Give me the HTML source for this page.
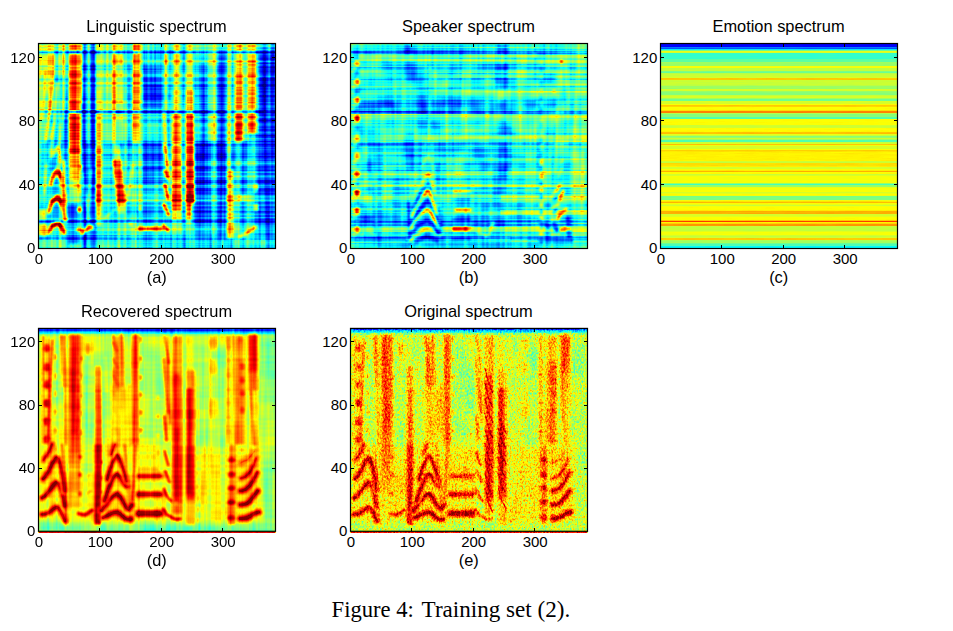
<!DOCTYPE html>
<html lang="en"><head><meta charset="utf-8"><title>Figure 4: Training set (2)</title>
<style>html,body{margin:0;padding:0;background:#fff}svg{display:block}</style></head><body>
<svg width="953" height="631" viewBox="0 0 953 631">
<defs>
<filter id="bl0_4" filterUnits="userSpaceOnUse" x="-20" y="-20" width="277" height="245" color-interpolation-filters="sRGB"><feGaussianBlur stdDeviation="0.4"/></filter>
<filter id="bl0_5" filterUnits="userSpaceOnUse" x="-20" y="-20" width="277" height="245" color-interpolation-filters="sRGB"><feGaussianBlur stdDeviation="0.5"/></filter>
<filter id="bl0_6" filterUnits="userSpaceOnUse" x="-20" y="-20" width="277" height="245" color-interpolation-filters="sRGB"><feGaussianBlur stdDeviation="0.6"/></filter>
<filter id="bl0_7" filterUnits="userSpaceOnUse" x="-20" y="-20" width="277" height="245" color-interpolation-filters="sRGB"><feGaussianBlur stdDeviation="0.7"/></filter>
<filter id="bl0_8" filterUnits="userSpaceOnUse" x="-20" y="-20" width="277" height="245" color-interpolation-filters="sRGB"><feGaussianBlur stdDeviation="0.8"/></filter>
<filter id="bl0_9" filterUnits="userSpaceOnUse" x="-20" y="-20" width="277" height="245" color-interpolation-filters="sRGB"><feGaussianBlur stdDeviation="0.9"/></filter>
<filter id="bl1" filterUnits="userSpaceOnUse" x="-20" y="-20" width="277" height="245" color-interpolation-filters="sRGB"><feGaussianBlur stdDeviation="1"/></filter>
<filter id="bl1_1" filterUnits="userSpaceOnUse" x="-20" y="-20" width="277" height="245" color-interpolation-filters="sRGB"><feGaussianBlur stdDeviation="1.1"/></filter>
<filter id="bl1_2" filterUnits="userSpaceOnUse" x="-20" y="-20" width="277" height="245" color-interpolation-filters="sRGB"><feGaussianBlur stdDeviation="1.2"/></filter>
<filter id="bl1_3" filterUnits="userSpaceOnUse" x="-20" y="-20" width="277" height="245" color-interpolation-filters="sRGB"><feGaussianBlur stdDeviation="1.3"/></filter>
<filter id="bl1_4" filterUnits="userSpaceOnUse" x="-20" y="-20" width="277" height="245" color-interpolation-filters="sRGB"><feGaussianBlur stdDeviation="1.4"/></filter>
<filter id="bl1_5" filterUnits="userSpaceOnUse" x="-20" y="-20" width="277" height="245" color-interpolation-filters="sRGB"><feGaussianBlur stdDeviation="1.5"/></filter>
<filter id="bl1_6" filterUnits="userSpaceOnUse" x="-20" y="-20" width="277" height="245" color-interpolation-filters="sRGB"><feGaussianBlur stdDeviation="1.6"/></filter>
<filter id="bl2" filterUnits="userSpaceOnUse" x="-20" y="-20" width="277" height="245" color-interpolation-filters="sRGB"><feGaussianBlur stdDeviation="2"/></filter>
<filter id="bl2_5" filterUnits="userSpaceOnUse" x="-20" y="-20" width="277" height="245" color-interpolation-filters="sRGB"><feGaussianBlur stdDeviation="2.5"/></filter>
<filter id="bl3" filterUnits="userSpaceOnUse" x="-20" y="-20" width="277" height="245" color-interpolation-filters="sRGB"><feGaussianBlur stdDeviation="3"/></filter>
<filter id="bl4" filterUnits="userSpaceOnUse" x="-20" y="-20" width="277" height="245" color-interpolation-filters="sRGB"><feGaussianBlur stdDeviation="4"/></filter>
<filter id="bl5" filterUnits="userSpaceOnUse" x="-20" y="-20" width="277" height="245" color-interpolation-filters="sRGB"><feGaussianBlur stdDeviation="5"/></filter>
<filter id="jet_a" filterUnits="userSpaceOnUse" x="0" y="0" width="237" height="205" color-interpolation-filters="sRGB">
<feTurbulence type="fractalNoise" baseFrequency="0.24 0.004" numOctaves="2" seed="5" result="t0"/>
<feColorMatrix in="t0" type="matrix" values="1 0 0 0 0 1 0 0 0 0 1 0 0 0 0 0 0 0 0 1" result="n0"/>
<feComposite in="SourceGraphic" in2="n0" operator="arithmetic" k1="0" k2="1" k3="0.42" k4="-0.21" result="c0"/>
<feTurbulence type="fractalNoise" baseFrequency="0.003 0.36" numOctaves="2" seed="9" result="t1"/>
<feColorMatrix in="t1" type="matrix" values="1 0 0 0 0 1 0 0 0 0 1 0 0 0 0 0 0 0 0 1" result="n1"/>
<feComposite in="c0" in2="n1" operator="arithmetic" k1="0" k2="1" k3="0.42" k4="-0.21" result="c1"/>
<feTurbulence type="fractalNoise" baseFrequency="0.06 0.05" numOctaves="1" seed="2" result="t2"/>
<feColorMatrix in="t2" type="matrix" values="1 0 0 0 0 1 0 0 0 0 1 0 0 0 0 0 0 0 0 1" result="n2"/>
<feComposite in="c1" in2="n2" operator="arithmetic" k1="0" k2="1" k3="0.12" k4="-0.06" result="c2"/>
<feComponentTransfer in="c2"><feFuncR type="table" tableValues="0 0 0 0 .5 1 1 1 .5"/><feFuncG type="table" tableValues="0 0 .5 1 1 1 .5 0 0"/><feFuncB type="table" tableValues=".5 1 1 1 .5 0 0 0 0"/><feFuncA type="linear" slope="0" intercept="1"/></feComponentTransfer>
</filter>
<filter id="jet_b" filterUnits="userSpaceOnUse" x="0" y="0" width="237" height="205" color-interpolation-filters="sRGB">
<feTurbulence type="fractalNoise" baseFrequency="0.22 0.01" numOctaves="2" seed="11" result="t0"/>
<feColorMatrix in="t0" type="matrix" values="1 0 0 0 0 1 0 0 0 0 1 0 0 0 0 0 0 0 0 1" result="n0"/>
<feComposite in="SourceGraphic" in2="n0" operator="arithmetic" k1="0" k2="1" k3="0.25" k4="-0.12" result="c0"/>
<feTurbulence type="fractalNoise" baseFrequency="0.004 0.4" numOctaves="2" seed="4" result="t1"/>
<feColorMatrix in="t1" type="matrix" values="1 0 0 0 0 1 0 0 0 0 1 0 0 0 0 0 0 0 0 1" result="n1"/>
<feComposite in="c0" in2="n1" operator="arithmetic" k1="0" k2="1" k3="0.4" k4="-0.2" result="c1"/>
<feTurbulence type="fractalNoise" baseFrequency="0.05 0.06" numOctaves="2" seed="7" result="t2"/>
<feColorMatrix in="t2" type="matrix" values="1 0 0 0 0 1 0 0 0 0 1 0 0 0 0 0 0 0 0 1" result="n2"/>
<feComposite in="c1" in2="n2" operator="arithmetic" k1="0" k2="1" k3="0.22" k4="-0.11" result="c2"/>
<feComponentTransfer in="c2"><feFuncR type="table" tableValues="0 0 0 0 .5 1 1 1 .5"/><feFuncG type="table" tableValues="0 0 .5 1 1 1 .5 0 0"/><feFuncB type="table" tableValues=".5 1 1 1 .5 0 0 0 0"/><feFuncA type="linear" slope="0" intercept="1"/></feComponentTransfer>
</filter>
<filter id="jet_c" filterUnits="userSpaceOnUse" x="0" y="0" width="237" height="205" color-interpolation-filters="sRGB">
<feTurbulence type="fractalNoise" baseFrequency="0.05 0.9" numOctaves="1" seed="3" result="t0"/>
<feColorMatrix in="t0" type="matrix" values="1 0 0 0 0 1 0 0 0 0 1 0 0 0 0 0 0 0 0 1" result="n0"/>
<feComposite in="SourceGraphic" in2="n0" operator="arithmetic" k1="0" k2="1" k3="0.03" k4="-0.01" result="c0"/>
<feComponentTransfer in="c0"><feFuncR type="table" tableValues="0 0 0 0 .5 1 1 1 .5"/><feFuncG type="table" tableValues="0 0 .5 1 1 1 .5 0 0"/><feFuncB type="table" tableValues=".5 1 1 1 .5 0 0 0 0"/><feFuncA type="linear" slope="0" intercept="1"/></feComponentTransfer>
</filter>
<filter id="jet_d" filterUnits="userSpaceOnUse" x="0" y="0" width="237" height="204.6" color-interpolation-filters="sRGB">
<feTurbulence type="fractalNoise" baseFrequency="0.28 0.008" numOctaves="2" seed="21" result="t0"/>
<feColorMatrix in="t0" type="matrix" values="1 0 0 0 0 1 0 0 0 0 1 0 0 0 0 0 0 0 0 1" result="n0"/>
<feComposite in="SourceGraphic" in2="n0" operator="arithmetic" k1="0" k2="1" k3="0.2" k4="-0.1" result="c0"/>
<feTurbulence type="fractalNoise" baseFrequency="0.05 0.04" numOctaves="2" seed="17" result="t1"/>
<feColorMatrix in="t1" type="matrix" values="1 0 0 0 0 1 0 0 0 0 1 0 0 0 0 0 0 0 0 1" result="n1"/>
<feComposite in="c0" in2="n1" operator="arithmetic" k1="0" k2="1" k3="0.15" k4="-0.07" result="c1"/>
<feTurbulence type="fractalNoise" baseFrequency="0.01 0.3" numOctaves="1" seed="3" result="t2"/>
<feColorMatrix in="t2" type="matrix" values="1 0 0 0 0 1 0 0 0 0 1 0 0 0 0 0 0 0 0 1" result="n2"/>
<feComposite in="c1" in2="n2" operator="arithmetic" k1="0" k2="1" k3="0.1" k4="-0.05" result="c2"/>
<feComponentTransfer in="c2"><feFuncR type="table" tableValues="0 0 0 0 .5 1 1 1 .5"/><feFuncG type="table" tableValues="0 0 .5 1 1 1 .5 0 0"/><feFuncB type="table" tableValues=".5 1 1 1 .5 0 0 0 0"/><feFuncA type="linear" slope="0" intercept="1"/></feComponentTransfer>
</filter>
<filter id="jet_e" filterUnits="userSpaceOnUse" x="0" y="0" width="237" height="204.6" color-interpolation-filters="sRGB">
<feTurbulence type="fractalNoise" baseFrequency="0.6 0.42" numOctaves="2" seed="8" result="t0"/>
<feColorMatrix in="t0" type="matrix" values="1 0 0 0 0 1 0 0 0 0 1 0 0 0 0 0 0 0 0 1" result="n0"/>
<feComposite in="SourceGraphic" in2="n0" operator="arithmetic" k1="0" k2="1" k3="0.4" k4="-0.2" result="c0"/>
<feTurbulence type="fractalNoise" baseFrequency="0.07 0.05" numOctaves="2" seed="31" result="t1"/>
<feColorMatrix in="t1" type="matrix" values="1 0 0 0 0 1 0 0 0 0 1 0 0 0 0 0 0 0 0 1" result="n1"/>
<feComposite in="c0" in2="n1" operator="arithmetic" k1="0" k2="1" k3="0.1" k4="-0.05" result="c1"/>
<feTurbulence type="fractalNoise" baseFrequency="0.3 0.02" numOctaves="1" seed="5" result="t2"/>
<feColorMatrix in="t2" type="matrix" values="1 0 0 0 0 1 0 0 0 0 1 0 0 0 0 0 0 0 0 1" result="n2"/>
<feComposite in="c1" in2="n2" operator="arithmetic" k1="0" k2="1" k3="0.12" k4="-0.06" result="c2"/>
<feComponentTransfer in="c2"><feFuncR type="table" tableValues="0 0 0 0 .5 1 1 1 .5"/><feFuncG type="table" tableValues="0 0 .5 1 1 1 .5 0 0"/><feFuncB type="table" tableValues=".5 1 1 1 .5 0 0 0 0"/><feFuncA type="linear" slope="0" intercept="1"/></feComponentTransfer>
</filter>
</defs>
<rect width="953" height="631" fill="#fff"/>
<g transform="translate(38.5,43.5)">
<g filter="url(#jet_a)">
<rect x="0" y="0" width="237" height="205" fill="#5c5c5c"/>
<g filter="url(#bl3)">
<rect x="0" y="0" width="30" height="205" fill="#737373"/>
<rect x="0" y="72" width="30" height="124" fill="#4c4c4c"/>
<rect x="42" y="0" width="15" height="205" fill="#454545"/>
<rect x="62" y="0" width="12" height="100" fill="#737373"/>
<rect x="62" y="100" width="12" height="105" fill="#4c4c4c"/>
<rect x="85" y="0" width="10" height="205" fill="#6b6b6b"/>
<rect x="101" y="0" width="23" height="25" fill="#666666"/>
<rect x="103" y="25" width="19" height="41" fill="#3b3b3b"/>
<rect x="101" y="70" width="23" height="28" fill="#666666"/>
<rect x="103" y="100" width="21" height="35" fill="#3b3b3b"/>
<rect x="101" y="135" width="23" height="70" fill="#545454"/>
<rect x="156" y="0" width="14" height="60" fill="#6b6b6b"/>
</g>
<g filter="url(#bl2)">
<rect x="156" y="0" width="6.5" height="66" fill="#7a7a7a"/>
</g>
<g filter="url(#bl3)">
<rect x="162" y="20" width="8" height="185" fill="#383838"/>
<rect x="156" y="70" width="7" height="28" fill="#7a7a7a"/>
<rect x="156" y="100" width="33" height="95" fill="#3b3b3b"/>
</g>
<g filter="url(#bl2)">
<rect x="169" y="8" width="12" height="16" fill="#999999"/>
<rect x="169" y="24" width="12" height="42" fill="#7a7a7a"/>
<rect x="169" y="70" width="12" height="28" fill="#8f8f8f"/>
<rect x="169" y="0" width="12" height="7" fill="#808080"/>
<rect x="171" y="100" width="9" height="95" fill="#5c5c5c"/>
</g>
<g filter="url(#bl3)">
<rect x="180" y="8" width="8" height="187" fill="#2e2e2e"/>
<rect x="191" y="0" width="5" height="100" fill="#7a7a7a"/>
<rect x="192" y="100" width="20" height="95" fill="#545454"/>
<rect x="219" y="0" width="18" height="10" fill="#525252"/>
<rect x="219" y="10" width="18" height="90" fill="#2b2b2b"/>
<rect x="219" y="100" width="18" height="95" fill="#383838"/>
<rect x="0" y="196" width="237" height="9" fill="#6b6b6b" opacity="0.7"/>
</g>
<g filter="url(#bl1_3)">
<rect x="1" y="0" width="6.5" height="30" fill="#8f8f8f"/>
<rect x="1" y="30" width="6.5" height="36" fill="#707070"/>
<rect x="1" y="70" width="6.5" height="30" fill="#666666"/>
<rect x="1" y="182" width="6.5" height="10" fill="#808080"/>
<rect x="7.5" y="0" width="7.5" height="30" fill="#a8a8a8"/>
<rect x="7.5" y="30" width="7.5" height="20" fill="#8c8c8c"/>
<rect x="7.5" y="50" width="7.5" height="16" fill="#7a7a7a"/>
<rect x="15" y="0" width="7.5" height="30" fill="#7a7a7a"/>
<rect x="15" y="30" width="7.5" height="36" fill="#5c5c5c"/>
<rect x="22.5" y="0" width="5.5" height="30" fill="#a6a6a6"/>
<rect x="22.5" y="30" width="5.5" height="36" fill="#808080"/>
<rect x="28" y="0" width="3" height="205" fill="#4c4c4c"/>
<rect x="31" y="0" width="10.5" height="7" fill="#cccccc"/>
<rect x="31" y="10" width="10.5" height="57" fill="#d6d6d6"/>
<rect x="31" y="70" width="10.5" height="40" fill="#d4d4d4"/>
<rect x="31" y="110" width="10.5" height="15" fill="#b2b2b2"/>
<rect x="31" y="125" width="10.5" height="13" fill="#9e9e9e"/>
<rect x="31" y="138" width="10.5" height="12" fill="#808080"/>
<rect x="31" y="150" width="10.5" height="10" fill="#666666"/>
<rect x="30" y="160" width="11" height="40" fill="#333333"/>
<rect x="42" y="0" width="2" height="60" fill="#8c8c8c"/>
<rect x="44" y="0" width="3.5" height="205" fill="#383838"/>
<rect x="47.5" y="0" width="3.5" height="100" fill="#737373"/>
<rect x="51.5" y="0" width="5.5" height="205" fill="#333333"/>
<rect x="57" y="0" width="5.7" height="8" fill="#999999"/>
<rect x="57" y="10" width="5.7" height="37" fill="#999999"/>
<rect x="57" y="47" width="5.7" height="11" fill="#adadad"/>
<rect x="57" y="58" width="5.7" height="9" fill="#9e9e9e"/>
<rect x="57" y="70" width="5.7" height="30" fill="#b2b2b2"/>
<rect x="57" y="100" width="5.7" height="40" fill="#c7c7c7"/>
<rect x="57" y="140" width="5.7" height="20" fill="#dbdbdb"/>
<rect x="57" y="160" width="5.7" height="12" fill="#b2b2b2"/>
<rect x="57" y="172" width="5.7" height="10" fill="#8c8c8c"/>
<rect x="62.7" y="0" width="4.8" height="66" fill="#737373"/>
<rect x="62.7" y="70" width="4.8" height="30" fill="#5c5c5c"/>
<rect x="67.5" y="0" width="6.5" height="66" fill="#8c8c8c"/>
<rect x="67.5" y="70" width="6.5" height="30" fill="#6b6b6b"/>
<rect x="74" y="0" width="11" height="8" fill="#a3a3a3"/>
<rect x="74" y="10" width="11" height="12" fill="#b8b8b8"/>
<rect x="74" y="22" width="11" height="28" fill="#a6a6a6"/>
<rect x="74" y="50" width="11" height="10" fill="#bdbdbd"/>
<rect x="74" y="60" width="11" height="7" fill="#a3a3a3"/>
<rect x="74" y="70" width="11" height="9" fill="#adadad"/>
<rect x="74" y="79" width="11" height="21" fill="#858585"/>
<rect x="94" y="0" width="6" height="8" fill="#c7c7c7"/>
<rect x="94" y="10" width="6" height="50" fill="#cccccc"/>
<rect x="94" y="60" width="6" height="7" fill="#b8b8b8"/>
<rect x="94" y="70" width="6" height="15" fill="#b8b8b8"/>
<rect x="94" y="85" width="6" height="15" fill="#9e9e9e"/>
<rect x="100" y="0" width="4" height="60" fill="#949494"/>
<rect x="100.5" y="60" width="2" height="70" fill="#949494"/>
<rect x="100.5" y="130" width="2" height="40" fill="#808080"/>
<rect x="125.5" y="0" width="4.5" height="8" fill="#999999"/>
<rect x="125.5" y="10" width="4.5" height="12" fill="#bdbdbd"/>
<rect x="125.5" y="22" width="4.5" height="44" fill="#999999"/>
<rect x="130.5" y="0" width="2.5" height="205" fill="#4c4c4c"/>
<rect x="133" y="0" width="10.2" height="8" fill="#999999"/>
<rect x="133" y="10" width="10.2" height="12" fill="#adadad"/>
<rect x="133" y="22" width="10.2" height="25" fill="#999999"/>
<rect x="133" y="47" width="10.2" height="11" fill="#b2b2b2"/>
<rect x="133" y="58" width="10.2" height="9" fill="#9e9e9e"/>
<rect x="133" y="70" width="10.2" height="22" fill="#c7c7c7"/>
<rect x="133" y="92" width="10.2" height="43" fill="#d9d9d9"/>
<rect x="133" y="135" width="10.2" height="33" fill="#d1d1d1"/>
<rect x="133" y="168" width="10.2" height="8" fill="#9e9e9e"/>
<rect x="133" y="176" width="10.2" height="14" fill="#737373"/>
<rect x="143.5" y="0" width="3.5" height="205" fill="#454545"/>
<rect x="147.3" y="0" width="8.7" height="8" fill="#919191"/>
<rect x="147.3" y="10" width="8.7" height="12" fill="#9e9e9e"/>
<rect x="147.3" y="22" width="8.7" height="25" fill="#949494"/>
<rect x="147.3" y="47" width="8.7" height="11" fill="#b2b2b2"/>
<rect x="147.3" y="58" width="8.7" height="9" fill="#999999"/>
<rect x="147.3" y="70" width="8.7" height="22" fill="#bdbdbd"/>
<rect x="147.3" y="92" width="8.7" height="47" fill="#cccccc"/>
<rect x="147.3" y="139" width="8.7" height="21" fill="#e0e0e0"/>
<rect x="147.5" y="160" width="5.5" height="12" fill="#cccccc"/>
<rect x="147.5" y="172" width="5.5" height="8" fill="#999999"/>
<rect x="188" y="0" width="4" height="100" fill="#a3a3a3"/>
<rect x="188" y="100" width="4" height="40" fill="#999999"/>
<rect x="188.6" y="126" width="6.4" height="69" fill="#b2b2b2"/>
<rect x="196" y="0" width="9.6" height="8" fill="#a6a6a6"/>
<rect x="196" y="10" width="9.6" height="23" fill="#a8a8a8"/>
<rect x="196" y="33" width="9.6" height="25" fill="#c2c2c2"/>
<rect x="196" y="58" width="9.6" height="9" fill="#b2b2b2"/>
<rect x="196" y="69" width="9.6" height="29" fill="#cccccc"/>
<rect x="205.6" y="0" width="4.4" height="98" fill="#808080"/>
<rect x="210" y="0" width="8.8" height="8" fill="#adadad"/>
<rect x="210" y="10" width="8.8" height="50" fill="#c2c2c2"/>
<rect x="210" y="60" width="8.8" height="7" fill="#b2b2b2"/>
<rect x="210" y="69" width="8.8" height="20" fill="#cccccc"/>
<rect x="215" y="89" width="2.5" height="61" fill="#8c8c8c"/>
</g>
<g filter="url(#bl0_9)">
<path d="M9.5 189 13 183.5 18.8 180 23 183.5 25.5 189" stroke="#d1d1d1" stroke-width="4" fill="none" stroke-linecap="round" stroke-linejoin="round"/>
<path d="M14 182 18.8 179.6 22.5 182" stroke="#f7f7f7" stroke-width="3.6" fill="none" stroke-linecap="round" stroke-linejoin="round"/>
<path d="M10 168 13.5 159 18.8 154 22.5 159 25.5 168 27 177" stroke="#d1d1d1" stroke-width="4.2" fill="none" stroke-linecap="round" stroke-linejoin="round"/>
<path d="M14 158 18.8 153.6 22.5 158" stroke="#fafafa" stroke-width="4.2" fill="none" stroke-linecap="round" stroke-linejoin="round"/>
<path d="M12.5 140 15.5 131 18.8 126.5 21.5 131 24 140 26.5 160" stroke="#d1d1d1" stroke-width="4" fill="none" stroke-linecap="round" stroke-linejoin="round"/>
<path d="M15.5 131.5 18.8 127 21.5 131.5" stroke="#f7f7f7" stroke-width="4.6" fill="none" stroke-linecap="round" stroke-linejoin="round"/>
<path d="M25.5 118 26.5 150 27 176" stroke="#cccccc" stroke-width="2.2" fill="none" stroke-linecap="round" stroke-linejoin="round"/>
</g>
<g filter="url(#bl1_5)">
<rect x="0.5" y="166" width="7.5" height="9" fill="#949494"/>
<rect x="0.5" y="181" width="8.5" height="11" fill="#999999"/>
</g>
<g filter="url(#bl0_9)">
<path d="M15 112 17 106 19 103 21 108 23 120" stroke="#b2b2b2" stroke-width="2" fill="none" stroke-linecap="round" stroke-linejoin="round"/>
<path d="M12 95 15 82 17 78" stroke="#b2b2b2" stroke-width="1.6" fill="none" stroke-linecap="round" stroke-linejoin="round"/>
<path d="M7.5 97 10 75 13 45 15 22" stroke="#d6d6d6" stroke-width="1.7" fill="none" stroke-linecap="round" stroke-linejoin="round"/>
<path d="M12.5 114 15 85 17.5 55 18.7 40" stroke="#cccccc" stroke-width="1.6" fill="none" stroke-linecap="round" stroke-linejoin="round"/>
<path d="M12 70 14 40 14.5 10" stroke="#e0e0e0" stroke-width="1.6" fill="none" stroke-linecap="round" stroke-linejoin="round"/>
<path d="M3.5 75 6 45 7.5 25" stroke="#bdbdbd" stroke-width="1.5" fill="none" stroke-linecap="round" stroke-linejoin="round"/>
<path d="M22 100 25 60 27 31" stroke="#9e9e9e" stroke-width="1.4" fill="none" stroke-linecap="round" stroke-linejoin="round"/>
<path d="M19 128 21.5 95 23 75" stroke="#999999" stroke-width="1.3" fill="none" stroke-linecap="round" stroke-linejoin="round"/>
<path d="M6 150 8 120" stroke="#a6a6a6" stroke-width="1.5" fill="none" stroke-linecap="round" stroke-linejoin="round"/>
<path d="M25 139 27 156" stroke="#b2b2b2" stroke-width="1.6" fill="none" stroke-linecap="round" stroke-linejoin="round"/>
<path d="M39 140 42 149" stroke="#b2b2b2" stroke-width="1.6" fill="none" stroke-linecap="round" stroke-linejoin="round"/>
</g>
<g filter="url(#bl0_8)">
<ellipse cx="41" cy="166" rx="2" ry="3" fill="#e6e6e6"/>
</g>
<g filter="url(#bl1)">
<ellipse cx="41" cy="124" rx="2.5" ry="3" fill="#b8b8b8"/>
</g>
<g filter="url(#bl0_9)">
<path d="M44 189 47 186.5 51 183.5 53.5 184" stroke="#d1d1d1" stroke-width="3.6" fill="none" stroke-linecap="round" stroke-linejoin="round"/>
<path d="M39.5 186 43 186.5" stroke="#b8b8b8" stroke-width="3" fill="none" stroke-linecap="round" stroke-linejoin="round"/>
<path d="M44 130 48 160 50 176" stroke="#8c8c8c" stroke-width="1.4" fill="none" stroke-linecap="round" stroke-linejoin="round"/>
<path d="M53 125 50 160 49 176" stroke="#8c8c8c" stroke-width="1.4" fill="none" stroke-linecap="round" stroke-linejoin="round"/>
</g>
<g filter="url(#bl1_2)">
<polygon points="76,100 81,100 87,170 78.5,170" fill="#9e9e9e"/>
<polygon points="74.5,116 82.5,116 87,160 78.5,160" fill="#dedede"/>
</g>
<g filter="url(#bl0_9)">
<path d="M66 175 74 168 82.5 164" stroke="#949494" stroke-width="1.6" fill="none" stroke-linecap="round" stroke-linejoin="round"/>
<path d="M95 121 89 151" stroke="#a8a8a8" stroke-width="1.6" fill="none" stroke-linecap="round" stroke-linejoin="round"/>
<path d="M80 108 80.5 122" stroke="#b8b8b8" stroke-width="1.8" fill="none" stroke-linecap="round" stroke-linejoin="round"/>
<path d="M92.5 140 88.5 157" stroke="#b8b8b8" stroke-width="1.7" fill="none" stroke-linecap="round" stroke-linejoin="round"/>
<path d="M93 122 90 140" stroke="#999999" stroke-width="1.4" fill="none" stroke-linecap="round" stroke-linejoin="round"/>
</g>
<g filter="url(#bl0_8)">
<ellipse cx="101.5" cy="165" rx="1.3" ry="2" fill="#b8b8b8"/>
</g>
<g filter="url(#bl0_9)">
<path d="M90.5 180 92.5 181" stroke="#b2b2b2" stroke-width="2" fill="none" stroke-linecap="round" stroke-linejoin="round"/>
<path d="M100.5 185 123 185" stroke="#c7c7c7" stroke-width="3.8" fill="none" stroke-linecap="round" stroke-linejoin="round"/>
<path d="M125.5 69 128 110 131 140" stroke="#d1d1d1" stroke-width="2" fill="none" stroke-linecap="round" stroke-linejoin="round"/>
<path d="M126.5 127 129 134" stroke="#f7f7f7" stroke-width="2.8" fill="none" stroke-linecap="round" stroke-linejoin="round"/>
<path d="M126.5 141 129.5 155" stroke="#f7f7f7" stroke-width="3" fill="none" stroke-linecap="round" stroke-linejoin="round"/>
<path d="M125.5 161 130 171" stroke="#f7f7f7" stroke-width="3.2" fill="none" stroke-linecap="round" stroke-linejoin="round"/>
<path d="M125 182 129.5 187" stroke="#e0e0e0" stroke-width="3" fill="none" stroke-linecap="round" stroke-linejoin="round"/>
<path d="M126 100 129 125" stroke="#ededed" stroke-width="2.6" fill="none" stroke-linecap="round" stroke-linejoin="round"/>
<path d="M119 185 122 187" stroke="#a8a8a8" stroke-width="2.4" fill="none" stroke-linecap="round" stroke-linejoin="round"/>
<path d="M201 193 206 191 212 187 217 183.5" stroke="#b2b2b2" stroke-width="3" fill="none" stroke-linecap="round" stroke-linejoin="round"/>
<ellipse cx="217.5" cy="144" rx="2" ry="3.4" fill="#adadad"/>
<ellipse cx="217.5" cy="164" rx="2" ry="3.4" fill="#b2b2b2"/>
<path d="M190.5 140 190.5 145" stroke="#b8b8b8" stroke-width="3" fill="none" stroke-linecap="round" stroke-linejoin="round"/>
<path d="M190.5 152 190.5 157" stroke="#b8b8b8" stroke-width="3" fill="none" stroke-linecap="round" stroke-linejoin="round"/>
</g>
<g filter="url(#bl1_2)">
<rect x="200" y="151" width="8" height="6" fill="#808080"/>
</g>
<g filter="url(#bl0_5)" style="mix-blend-mode:difference">
<rect x="0" y="7.5" width="237" height="3" fill="#333333"/>
<rect x="0" y="22" width="237" height="5" fill="#121212"/>
<rect x="0" y="34.5" width="237" height="3" fill="#1a1a1a"/>
<rect x="0" y="52.5" width="237" height="2.5" fill="#0f0f0f"/>
<rect x="0" y="67" width="237" height="3.3" fill="#383838"/>
<rect x="0" y="100" width="237" height="1.7" fill="#1f1f1f"/>
</g>
<g filter="url(#bl0_5)" style="mix-blend-mode:plus-lighter">
<rect x="0" y="140.5" width="237" height="1.9" fill="#1a1a1a"/>
<rect x="0" y="151.5" width="237" height="6.5" fill="#171717"/>
</g>
<g filter="url(#bl0_5)" style="mix-blend-mode:difference">
<rect x="0" y="177.2" width="237" height="1.7" fill="#212121"/>
</g>
<g filter="url(#bl0_5)" style="mix-blend-mode:plus-lighter">
<rect x="0" y="180" width="237" height="12" fill="#121212"/>
</g>
<g filter="url(#bl0_5)" style="mix-blend-mode:difference">
<rect x="0" y="194" width="237" height="2.5" fill="#1a1a1a"/>
</g>
<g filter="url(#bl0_5)" style="mix-blend-mode:plus-lighter">
<rect x="0" y="197" width="237" height="8" fill="#0d0d0d"/>
</g>
</g>
<rect x="0" y="0" width="237" height="205" fill="none" stroke="#000" stroke-width="1.2"/>
<path d="M61 205 v-3.5 M61 0 v3.5 M123 205 v-3.5 M123 0 v3.5 M184 205 v-3.5 M184 0 v3.5 M0 141 h3.5 M237 141 h-3.5 M0 77 h3.5 M237 77 h-3.5 M0 14 h3.5 M237 14 h-3.5" stroke="#000" stroke-width="1" fill="none" shape-rendering="crispEdges"/>
<g font-family="'Liberation Sans', Arial, sans-serif" font-size="15" fill="#000">
<text x="0.3" y="220.2" text-anchor="middle">0</text>
<text x="61.8" y="220.2" text-anchor="middle">100</text>
<text x="123.2" y="220.2" text-anchor="middle">200</text>
<text x="184.7" y="220.2" text-anchor="middle">300</text>
<text x="-3.2" y="209.2" text-anchor="end">0</text>
<text x="-3.2" y="146.5" text-anchor="end">40</text>
<text x="-3.2" y="82.8" text-anchor="end">80</text>
<text x="-3.2" y="19" text-anchor="end">120</text>
<text x="118" y="-11.7" text-anchor="middle" font-size="16.4">Linguistic spectrum</text>
<text x="118.2" y="239.3" text-anchor="middle" font-size="16.4">(a)</text>
</g>
</g>
<g transform="translate(350.5,43.5)">
<g filter="url(#jet_b)">
<rect x="0" y="0" width="237" height="205" fill="#626262"/>
<g filter="url(#bl5)">
<rect x="160" y="0" width="77" height="205" fill="#6b6b6b"/>
</g>
<g filter="url(#bl3)">
<rect x="222" y="0" width="15" height="205" fill="#787878"/>
</g>
<g filter="url(#bl5)">
<rect x="96" y="0" width="50" height="120" fill="#666666"/>
</g>
<g filter="url(#bl2_5)">
<ellipse cx="59" cy="6" rx="5" ry="4" fill="#2b2b2b" opacity="0.9"/>
<ellipse cx="59" cy="28" rx="6" ry="10" fill="#2b2b2b" opacity="0.9"/>
<ellipse cx="73" cy="60" rx="4" ry="8" fill="#333333" opacity="0.8"/>
<ellipse cx="17" cy="62" rx="4" ry="7" fill="#333333" opacity="0.8"/>
<ellipse cx="152" cy="6" rx="5" ry="4" fill="#2e2e2e" opacity="0.9"/>
<ellipse cx="152" cy="24" rx="6" ry="5" fill="#2e2e2e" opacity="0.9"/>
<ellipse cx="152" cy="38" rx="6" ry="9" fill="#2e2e2e" opacity="0.9"/>
<ellipse cx="152" cy="62" rx="4" ry="6" fill="#404040" opacity="0.8"/>
<ellipse cx="153" cy="85" rx="6" ry="7" fill="#2e2e2e" opacity="0.9"/>
<ellipse cx="153" cy="118" rx="6" ry="18" fill="#2e2e2e" opacity="0.9"/>
<ellipse cx="60" cy="118" rx="5" ry="10" fill="#333333" opacity="0.9"/>
<ellipse cx="18" cy="122" rx="4" ry="5" fill="#333333" opacity="0.8"/>
<ellipse cx="80" cy="84" rx="12" ry="6" fill="#3d3d3d" opacity="0.7"/>
<ellipse cx="152" cy="146" rx="4" ry="4" fill="#404040" opacity="0.8"/>
<ellipse cx="152" cy="168" rx="4" ry="3" fill="#404040" opacity="0.8"/>
<ellipse cx="152" cy="180" rx="5" ry="3" fill="#333333" opacity="0.8"/>
<ellipse cx="59" cy="100" rx="6" ry="12" fill="#404040" opacity="0.8"/>
<ellipse cx="59" cy="120" rx="4" ry="8" fill="#454545" opacity="0.8"/>
<ellipse cx="20" cy="100" rx="5" ry="8" fill="#454545" opacity="0.8"/>
<ellipse cx="30" cy="60" rx="14" ry="5" fill="#404040" opacity="0.8"/>
<ellipse cx="100" cy="60" rx="30" ry="5" fill="#454545" opacity="0.6"/>
<ellipse cx="199" cy="35" rx="6" ry="5" fill="#404040" opacity="0.8"/>
<ellipse cx="214" cy="50" rx="3" ry="6" fill="#404040" opacity="0.8"/>
<ellipse cx="205" cy="60" rx="3" ry="5" fill="#383838" opacity="0.8"/>
<ellipse cx="20" cy="120" rx="4" ry="4" fill="#333333" opacity="0.8"/>
<ellipse cx="17" cy="146" rx="4" ry="3" fill="#383838" opacity="0.8"/>
<ellipse cx="40" cy="158" rx="3" ry="3" fill="#383838" opacity="0.8"/>
<ellipse cx="17" cy="176" rx="5" ry="4" fill="#333333" opacity="0.8"/>
<ellipse cx="128" cy="110" rx="4" ry="8" fill="#474747" opacity="0.8"/>
<ellipse cx="110" cy="100" rx="5" ry="8" fill="#4c4c4c" opacity="0.5"/>
</g>
<g filter="url(#bl0_5)" style="mix-blend-mode:difference">
<rect x="0" y="7.3" width="237" height="2.7" fill="#2b2b2b"/>
</g>
<g filter="url(#bl0_5)" style="mix-blend-mode:plus-lighter">
<rect x="8" y="10.8" width="142" height="7.2" fill="#1c1c1c"/>
<rect x="150" y="10.8" width="87" height="7.2" fill="#0f0f0f"/>
</g>
<g filter="url(#bl0_5)" style="mix-blend-mode:difference">
<rect x="0" y="23.5" width="237" height="2.8" fill="#1a1a1a"/>
</g>
<g filter="url(#bl0_5)" style="mix-blend-mode:plus-lighter">
<rect x="0" y="27" width="237" height="2.8" fill="#0d0d0d"/>
</g>
<g filter="url(#bl0_5)" style="mix-blend-mode:difference">
<rect x="0" y="34.8" width="237" height="1.7" fill="#141414"/>
<rect x="0" y="45.3" width="237" height="1.4" fill="#0f0f0f"/>
</g>
<g filter="url(#bl0_5)" style="mix-blend-mode:plus-lighter">
<rect x="0" y="47.5" width="237" height="4.2" fill="#0f0f0f"/>
</g>
<g filter="url(#bl0_5)" style="mix-blend-mode:difference">
<rect x="8" y="57" width="177" height="9.5" fill="#141414"/>
<rect x="0" y="67.2" width="237" height="3" fill="#333333"/>
</g>
<g filter="url(#bl0_5)" style="mix-blend-mode:plus-lighter">
<rect x="0" y="70.7" width="237" height="5.3" fill="#1a1a1a"/>
<rect x="0" y="92" width="237" height="3" fill="#1f1f1f"/>
<rect x="0" y="95.8" width="237" height="2.8" fill="#1a1a1a"/>
</g>
<g filter="url(#bl0_5)" style="mix-blend-mode:difference">
<rect x="0" y="100" width="237" height="2" fill="#212121"/>
</g>
<g filter="url(#bl0_5)" style="mix-blend-mode:plus-lighter">
<rect x="0" y="103" width="237" height="2" fill="#0f0f0f"/>
<rect x="0" y="108" width="237" height="2" fill="#0d0d0d"/>
</g>
<g filter="url(#bl0_5)" style="mix-blend-mode:difference">
<rect x="0" y="126.5" width="237" height="1.1" fill="#141414"/>
</g>
<g filter="url(#bl0_5)" style="mix-blend-mode:plus-lighter">
<rect x="0" y="128" width="237" height="3.5" fill="#0f0f0f"/>
<rect x="0" y="140.3" width="237" height="2.9" fill="#1f1f1f"/>
<rect x="0" y="152.3" width="60" height="4.5" fill="#292929"/>
<rect x="150" y="152.3" width="87" height="4.5" fill="#292929"/>
<rect x="60" y="152.3" width="90" height="4.5" fill="#1a1a1a"/>
<rect x="150" y="166.5" width="87" height="4.5" fill="#1f1f1f"/>
</g>
<g filter="url(#bl0_5)" style="mix-blend-mode:difference">
<rect x="0" y="177" width="237" height="2.2" fill="#333333"/>
<rect x="0" y="180.6" width="237" height="2" fill="#242424"/>
</g>
<g filter="url(#bl0_5)" style="mix-blend-mode:plus-lighter">
<rect x="0" y="184" width="237" height="4.5" fill="#1a1a1a"/>
</g>
<g filter="url(#bl0_5)" style="mix-blend-mode:difference">
<rect x="0" y="193.4" width="237" height="3.6" fill="#242424"/>
<rect x="55" y="193.4" width="105" height="4.6" fill="#141414"/>
<rect x="188" y="193.4" width="34" height="4.6" fill="#141414"/>
<rect x="0" y="160" width="237" height="4" fill="#0f0f0f"/>
<rect x="0" y="172" width="237" height="4" fill="#0d0d0d"/>
</g>
<g filter="url(#bl1)">
<ellipse cx="6.5" cy="19.8" rx="2.8" ry="3.2" fill="#cccccc"/>
</g>
<g filter="url(#bl0_9)">
<ellipse cx="4.2" cy="24.8" rx="1.6" ry="2.4" fill="#8f8f8f"/>
</g>
<g filter="url(#bl1)">
<ellipse cx="7" cy="29.3" rx="2" ry="2.5" fill="#333333" opacity="0.8"/>
<ellipse cx="6.5" cy="38.5" rx="2.8" ry="3.2" fill="#cccccc"/>
</g>
<g filter="url(#bl0_9)">
<ellipse cx="4.2" cy="43.5" rx="1.6" ry="2.4" fill="#8f8f8f"/>
</g>
<g filter="url(#bl1)">
<ellipse cx="7" cy="48" rx="2" ry="2.5" fill="#333333" opacity="0.8"/>
<ellipse cx="6.5" cy="56.8" rx="2.8" ry="3.2" fill="#cccccc"/>
</g>
<g filter="url(#bl0_9)">
<ellipse cx="4.2" cy="61.8" rx="1.6" ry="2.4" fill="#8f8f8f"/>
</g>
<g filter="url(#bl1)">
<ellipse cx="7" cy="66.3" rx="2" ry="2.5" fill="#333333" opacity="0.8"/>
<ellipse cx="6.5" cy="75" rx="2.8" ry="3.2" fill="#f2f2f2"/>
</g>
<g filter="url(#bl0_9)">
<ellipse cx="4.2" cy="80" rx="1.6" ry="2.4" fill="#8f8f8f"/>
</g>
<g filter="url(#bl1)">
<ellipse cx="7" cy="84.5" rx="2" ry="2.5" fill="#333333" opacity="0.8"/>
<ellipse cx="6.5" cy="94.5" rx="2.8" ry="3.2" fill="#b2b2b2"/>
</g>
<g filter="url(#bl0_9)">
<ellipse cx="4.2" cy="99.5" rx="1.6" ry="2.4" fill="#8f8f8f"/>
</g>
<g filter="url(#bl1)">
<ellipse cx="7" cy="104" rx="2" ry="2.5" fill="#333333" opacity="0.8"/>
<ellipse cx="6.5" cy="112.5" rx="2.8" ry="3.2" fill="#b2b2b2"/>
</g>
<g filter="url(#bl0_9)">
<ellipse cx="4.2" cy="117.5" rx="1.6" ry="2.4" fill="#8f8f8f"/>
</g>
<g filter="url(#bl1)">
<ellipse cx="7" cy="122" rx="2" ry="2.5" fill="#333333" opacity="0.8"/>
<ellipse cx="6.5" cy="130.6" rx="2.8" ry="3.2" fill="#cccccc"/>
</g>
<g filter="url(#bl0_9)">
<ellipse cx="4.2" cy="135.6" rx="1.6" ry="2.4" fill="#8f8f8f"/>
</g>
<g filter="url(#bl1)">
<ellipse cx="7" cy="140.1" rx="2" ry="2.5" fill="#333333" opacity="0.8"/>
<ellipse cx="6.5" cy="149.4" rx="2.8" ry="3.2" fill="#f2f2f2"/>
</g>
<g filter="url(#bl0_9)">
<ellipse cx="4.2" cy="154.4" rx="1.6" ry="2.4" fill="#8f8f8f"/>
</g>
<g filter="url(#bl1)">
<ellipse cx="7" cy="158.9" rx="2" ry="2.5" fill="#333333" opacity="0.8"/>
<ellipse cx="6.5" cy="167.5" rx="2.8" ry="3.2" fill="#cccccc"/>
</g>
<g filter="url(#bl0_9)">
<ellipse cx="4.2" cy="172.5" rx="1.6" ry="2.4" fill="#8f8f8f"/>
</g>
<g filter="url(#bl1)">
<ellipse cx="7" cy="177" rx="2" ry="2.5" fill="#333333" opacity="0.8"/>
<ellipse cx="6.5" cy="186.3" rx="2.8" ry="3.2" fill="#cccccc"/>
</g>
<g filter="url(#bl0_9)">
<ellipse cx="4.2" cy="191.3" rx="1.6" ry="2.4" fill="#8f8f8f"/>
</g>
<g filter="url(#bl1)">
<ellipse cx="7" cy="195.8" rx="2" ry="2.5" fill="#333333" opacity="0.8"/>
</g>
<g filter="url(#bl0_8)">
<path d="M22 128 25.5 190" stroke="#333333" stroke-width="1.3" fill="none" stroke-linecap="round" stroke-linejoin="round" opacity="0.8"/>
<path d="M23.5 128 27 190" stroke="#858585" stroke-width="1.2" fill="none" stroke-linecap="round" stroke-linejoin="round" opacity="0.8"/>
</g>
<g filter="url(#bl0_9)">
<path d="M10 192 17 186 24 192" stroke="#808080" stroke-width="1.6" fill="none" stroke-linecap="round" stroke-linejoin="round"/>
</g>
<g filter="url(#bl1_2)">
<path d="M60 190 68 183 76.5 176 82 181 87 189" stroke="#212121" stroke-width="4" fill="none" stroke-linecap="round" stroke-linejoin="round" opacity="0.9"/>
<path d="M61 178 68 168 77 157 81 162 85 172 88 179" stroke="#262626" stroke-width="4" fill="none" stroke-linecap="round" stroke-linejoin="round" opacity="0.9"/>
<path d="M62 165 70 150 78 139 82 147 86 160" stroke="#2e2e2e" stroke-width="3.5" fill="none" stroke-linecap="round" stroke-linejoin="round" opacity="0.85"/>
</g>
<g filter="url(#bl1_3)">
<path d="M66 198 76 193 86 197" stroke="#1f1f1f" stroke-width="4" fill="none" stroke-linecap="round" stroke-linejoin="round" opacity="0.9"/>
</g>
<g filter="url(#bl1_2)">
<path d="M58 160 60 200" stroke="#262626" stroke-width="3" fill="none" stroke-linecap="round" stroke-linejoin="round" opacity="0.8"/>
<path d="M88.5 165 89 190" stroke="#262626" stroke-width="3.5" fill="none" stroke-linecap="round" stroke-linejoin="round" opacity="0.85"/>
</g>
<g filter="url(#bl0_8)">
<path d="M59 198 63 194 69 189.5 76.5 185.8 82 188 87 192 90 192 93 190" stroke="#9e9e9e" stroke-width="2.2" fill="none" stroke-linecap="round" stroke-linejoin="round"/>
<path d="M71 187.5 76.5 185.6 80 186.5" stroke="#b2b2b2" stroke-width="2.2" fill="none" stroke-linecap="round" stroke-linejoin="round"/>
<path d="M59 186 63 180 69 172.5 76.5 166.2 80.5 169.5 84 176 87.5 183" stroke="#9e9e9e" stroke-width="2.2" fill="none" stroke-linecap="round" stroke-linejoin="round"/>
<path d="M72 169.5 76.5 166 79.5 168 83 174 86 180.5" stroke="#d1d1d1" stroke-width="2.4" fill="none" stroke-linecap="round" stroke-linejoin="round"/>
<path d="M61 173 66 164 72 154 77 147.5 80.5 152 83.5 161 86.5 171" stroke="#999999" stroke-width="2.2" fill="none" stroke-linecap="round" stroke-linejoin="round"/>
<path d="M74 151 77 147.3 79.5 150" stroke="#d9d9d9" stroke-width="2.8" fill="none" stroke-linecap="round" stroke-linejoin="round"/>
<path d="M80 152 83.5 161 86 169" stroke="#bfbfbf" stroke-width="1.8" fill="none" stroke-linecap="round" stroke-linejoin="round"/>
<path d="M65 150 72 138 77.5 130 81 138 84 150 87 164" stroke="#8f8f8f" stroke-width="1.7" fill="none" stroke-linecap="round" stroke-linejoin="round"/>
<path d="M76 132 78 129.5 79.5 132" stroke="#b8b8b8" stroke-width="2.2" fill="none" stroke-linecap="round" stroke-linejoin="round"/>
<path d="M70 125 75 116 78.5 111 81.5 122 85 143 87.5 158" stroke="#858585" stroke-width="1.4" fill="none" stroke-linecap="round" stroke-linejoin="round"/>
<path d="M74 105 78 92 79.5 60 80.5 20" stroke="#808080" stroke-width="1.3" fill="none" stroke-linecap="round" stroke-linejoin="round" opacity="0.8"/>
<path d="M76 92 77.8 60 78.8 20" stroke="#383838" stroke-width="1.3" fill="none" stroke-linecap="round" stroke-linejoin="round" opacity="0.7"/>
<path d="M81 100 84 130" stroke="#808080" stroke-width="1.3" fill="none" stroke-linecap="round" stroke-linejoin="round" opacity="0.8"/>
<path d="M88.5 186 89.5 150 92 116" stroke="#808080" stroke-width="1.3" fill="none" stroke-linecap="round" stroke-linejoin="round" opacity="0.8"/>
<path d="M87 150 88 120" stroke="#3d3d3d" stroke-width="1.3" fill="none" stroke-linecap="round" stroke-linejoin="round" opacity="0.7"/>
</g>
<g filter="url(#bl0_9)">
<path d="M104 148 119 148" stroke="#a3a3a3" stroke-width="3" fill="none" stroke-linecap="round" stroke-linejoin="round"/>
<path d="M106 166.6 119 166.6" stroke="#dbdbdb" stroke-width="3.4" fill="none" stroke-linecap="round" stroke-linejoin="round"/>
<path d="M103 185.6 119 185.6" stroke="#dbdbdb" stroke-width="3.6" fill="none" stroke-linecap="round" stroke-linejoin="round"/>
<path d="M119 185.6 124 186.5 131 190 136.5 192.8 140 188 142.5 179" stroke="#949494" stroke-width="2" fill="none" stroke-linecap="round" stroke-linejoin="round"/>
</g>
<g filter="url(#bl1_2)">
<path d="M103 176 119 176" stroke="#262626" stroke-width="3" fill="none" stroke-linecap="round" stroke-linejoin="round" opacity="0.8"/>
<path d="M103 195.5 119 195.5" stroke="#212121" stroke-width="3.5" fill="none" stroke-linecap="round" stroke-linejoin="round" opacity="0.8"/>
<path d="M103 157 119 157" stroke="#383838" stroke-width="3" fill="none" stroke-linecap="round" stroke-linejoin="round" opacity="0.7"/>
<path d="M127 181 134 184 137 184 140 177" stroke="#333333" stroke-width="2.5" fill="none" stroke-linecap="round" stroke-linejoin="round" opacity="0.7"/>
</g>
<g filter="url(#bl0_8)">
<ellipse cx="190.7" cy="19" rx="1.5" ry="2.6" fill="#8c8c8c" opacity="0.6"/>
</g>
<g filter="url(#bl0_9)">
<ellipse cx="190.9" cy="26" rx="1.7" ry="3" fill="#262626" opacity="0.4"/>
</g>
<g filter="url(#bl0_8)">
<ellipse cx="190.7" cy="33" rx="1.5" ry="2.6" fill="#8c8c8c" opacity="0.6"/>
</g>
<g filter="url(#bl0_9)">
<ellipse cx="190.9" cy="40" rx="1.7" ry="3" fill="#262626" opacity="0.4"/>
</g>
<g filter="url(#bl0_8)">
<ellipse cx="190.7" cy="47" rx="1.5" ry="2.6" fill="#8c8c8c" opacity="0.6"/>
</g>
<g filter="url(#bl0_9)">
<ellipse cx="190.9" cy="54" rx="1.7" ry="3" fill="#262626" opacity="0.4"/>
</g>
<g filter="url(#bl0_8)">
<ellipse cx="190.7" cy="61" rx="1.5" ry="2.6" fill="#8c8c8c" opacity="0.6"/>
</g>
<g filter="url(#bl0_9)">
<ellipse cx="190.9" cy="68" rx="1.7" ry="3" fill="#262626" opacity="0.4"/>
</g>
<g filter="url(#bl0_8)">
<ellipse cx="190.7" cy="75" rx="1.5" ry="2.6" fill="#8c8c8c" opacity="0.6"/>
</g>
<g filter="url(#bl0_9)">
<ellipse cx="190.9" cy="82" rx="1.7" ry="3" fill="#262626" opacity="0.4"/>
</g>
<g filter="url(#bl0_8)">
<ellipse cx="190.7" cy="90" rx="1.5" ry="2.6" fill="#8c8c8c" opacity="0.6"/>
</g>
<g filter="url(#bl0_9)">
<ellipse cx="190.9" cy="97" rx="1.7" ry="3" fill="#262626" opacity="0.4"/>
</g>
<g filter="url(#bl0_8)">
<ellipse cx="190.7" cy="104" rx="1.5" ry="2.6" fill="#8c8c8c" opacity="0.6"/>
</g>
<g filter="url(#bl0_9)">
<ellipse cx="190.9" cy="111" rx="1.7" ry="3" fill="#262626" opacity="0.4"/>
</g>
<g filter="url(#bl0_8)">
<ellipse cx="190.7" cy="118.6" rx="1.5" ry="2.6" fill="#b8b8b8" opacity="0.9"/>
</g>
<g filter="url(#bl0_9)">
<ellipse cx="190.9" cy="125.6" rx="1.7" ry="3" fill="#262626" opacity="0.8"/>
</g>
<g filter="url(#bl0_8)">
<ellipse cx="190.7" cy="132.7" rx="1.5" ry="2.6" fill="#b8b8b8" opacity="0.9"/>
</g>
<g filter="url(#bl0_9)">
<ellipse cx="190.9" cy="139.7" rx="1.7" ry="3" fill="#262626" opacity="0.8"/>
</g>
<g filter="url(#bl0_8)">
<ellipse cx="190.7" cy="146" rx="1.5" ry="2.6" fill="#b8b8b8" opacity="0.9"/>
</g>
<g filter="url(#bl0_9)">
<ellipse cx="190.9" cy="153" rx="1.7" ry="3" fill="#262626" opacity="0.8"/>
</g>
<g filter="url(#bl0_8)">
<ellipse cx="190.7" cy="161.6" rx="1.5" ry="2.6" fill="#b8b8b8" opacity="0.9"/>
</g>
<g filter="url(#bl0_9)">
<ellipse cx="190.9" cy="168.6" rx="1.7" ry="3" fill="#262626" opacity="0.8"/>
</g>
<g filter="url(#bl0_8)">
<ellipse cx="190.7" cy="175" rx="1.5" ry="2.6" fill="#b8b8b8" opacity="0.9"/>
</g>
<g filter="url(#bl0_9)">
<ellipse cx="190.9" cy="182" rx="1.7" ry="3" fill="#262626" opacity="0.8"/>
</g>
<g filter="url(#bl0_8)">
<ellipse cx="190.7" cy="190" rx="1.5" ry="2.6" fill="#b8b8b8" opacity="0.9"/>
</g>
<g filter="url(#bl0_9)">
<ellipse cx="190.9" cy="197" rx="1.7" ry="3" fill="#262626" opacity="0.8"/>
</g>
<g filter="url(#bl1_3)">
<path d="M189 178 198 183" stroke="#1f1f1f" stroke-width="5" fill="none" stroke-linecap="round" stroke-linejoin="round" opacity="0.85"/>
<path d="M189 196 221 196.5" stroke="#212121" stroke-width="4" fill="none" stroke-linecap="round" stroke-linejoin="round" opacity="0.85"/>
<path d="M203 181 207 187" stroke="#242424" stroke-width="5" fill="none" stroke-linecap="round" stroke-linejoin="round" opacity="0.85"/>
<path d="M217 175 219 195" stroke="#262626" stroke-width="4.5" fill="none" stroke-linecap="round" stroke-linejoin="round" opacity="0.85"/>
</g>
<g filter="url(#bl1_2)">
<path d="M203 169 206 166" stroke="#2b2b2b" stroke-width="3.5" fill="none" stroke-linecap="round" stroke-linejoin="round" opacity="0.8"/>
<path d="M203 157 206 154" stroke="#333333" stroke-width="3.5" fill="none" stroke-linecap="round" stroke-linejoin="round" opacity="0.8"/>
</g>
<g filter="url(#bl0_8)">
<path d="M203 149.6 206.5 146.5 210 141" stroke="#cccccc" stroke-width="2.4" fill="none" stroke-linecap="round" stroke-linejoin="round"/>
<path d="M209.5 156 211 151 213 148" stroke="#e0e0e0" stroke-width="2.8" fill="none" stroke-linecap="round" stroke-linejoin="round"/>
<path d="M203 163 208 161" stroke="#b2b2b2" stroke-width="2.4" fill="none" stroke-linecap="round" stroke-linejoin="round"/>
<path d="M206.6 175.7 210 171 213 167.5 216 165.6" stroke="#d1d1d1" stroke-width="2.6" fill="none" stroke-linecap="round" stroke-linejoin="round"/>
<path d="M210.5 186.3 215 185.2 220 185.2" stroke="#d1d1d1" stroke-width="3" fill="none" stroke-linecap="round" stroke-linejoin="round"/>
<path d="M201 190.7 209 190" stroke="#999999" stroke-width="2.4" fill="none" stroke-linecap="round" stroke-linejoin="round"/>
<path d="M201 175.9 206 175.7" stroke="#999999" stroke-width="2" fill="none" stroke-linecap="round" stroke-linejoin="round"/>
<path d="M208 133 210 129 211.5 124" stroke="#999999" stroke-width="1.8" fill="none" stroke-linecap="round" stroke-linejoin="round"/>
<path d="M210.5 120 212 116" stroke="#999999" stroke-width="1.6" fill="none" stroke-linecap="round" stroke-linejoin="round"/>
<path d="M203.5 160 204.5 120 207 70 209 30" stroke="#808080" stroke-width="1.3" fill="none" stroke-linecap="round" stroke-linejoin="round" opacity="0.7"/>
<path d="M201.5 150 202.5 120 205 80" stroke="#383838" stroke-width="1.3" fill="none" stroke-linecap="round" stroke-linejoin="round" opacity="0.6"/>
<path d="M211 110 211.5 60 211 30" stroke="#858585" stroke-width="1.3" fill="none" stroke-linecap="round" stroke-linejoin="round" opacity="0.7"/>
</g>
<g filter="url(#bl0_9)">
<ellipse cx="211" cy="17.8" rx="1.6" ry="2.4" fill="#b2b2b2"/>
<ellipse cx="184.5" cy="12" rx="1.5" ry="2.5" fill="#9e9e9e"/>
<ellipse cx="203.5" cy="48" rx="1.5" ry="2.5" fill="#999999"/>
</g>
<g filter="url(#bl1_2)">
<ellipse cx="137" cy="73" rx="2.5" ry="2.5" fill="#949494"/>
</g>
</g>
<rect x="0" y="0" width="237" height="205" fill="none" stroke="#000" stroke-width="1.2"/>
<path d="M61 205 v-3.5 M61 0 v3.5 M123 205 v-3.5 M123 0 v3.5 M184 205 v-3.5 M184 0 v3.5 M0 141 h3.5 M237 141 h-3.5 M0 77 h3.5 M237 77 h-3.5 M0 14 h3.5 M237 14 h-3.5" stroke="#000" stroke-width="1" fill="none" shape-rendering="crispEdges"/>
<g font-family="'Liberation Sans', Arial, sans-serif" font-size="15" fill="#000">
<text x="0.3" y="220.2" text-anchor="middle">0</text>
<text x="61.8" y="220.2" text-anchor="middle">100</text>
<text x="123.2" y="220.2" text-anchor="middle">200</text>
<text x="184.7" y="220.2" text-anchor="middle">300</text>
<text x="-3.2" y="209.2" text-anchor="end">0</text>
<text x="-3.2" y="146.5" text-anchor="end">40</text>
<text x="-3.2" y="82.8" text-anchor="end">80</text>
<text x="-3.2" y="19" text-anchor="end">120</text>
<text x="118" y="-11.7" text-anchor="middle" font-size="16.4">Speaker spectrum</text>
<text x="118.2" y="239.3" text-anchor="middle" font-size="16.4">(b)</text>
</g>
</g>
<g transform="translate(660.5,43.5)">
<g filter="url(#jet_c)">
<rect x="0" y="0" width="237" height="205" fill="#999999"/>
<g filter="url(#bl0_4)">
<rect x="0" y="0" width="237" height="4.2" fill="#1f1f1f"/>
<rect x="0" y="4.2" width="237" height="1.3" fill="#333333"/>
<rect x="0" y="5.5" width="237" height="1.7" fill="#595959"/>
<rect x="0" y="7.2" width="237" height="2.2" fill="#999999"/>
<rect x="0" y="9.4" width="237" height="6.1" fill="#6b6b6b"/>
<rect x="0" y="15.5" width="237" height="3.5" fill="#757575"/>
<rect x="0" y="19" width="237" height="3.7" fill="#858585"/>
<rect x="0" y="22.7" width="237" height="1.7" fill="#9e9e9e"/>
<rect x="0" y="24.4" width="237" height="3.3" fill="#8f8f8f"/>
<rect x="0" y="27.7" width="237" height="2.3" fill="#787878"/>
<rect x="0" y="30" width="237" height="4.4" fill="#919191"/>
<rect x="0" y="34.4" width="237" height="2.2" fill="#ababab"/>
<rect x="0" y="36.6" width="237" height="5.4" fill="#919191"/>
<rect x="0" y="42" width="237" height="3.5" fill="#858585"/>
<rect x="0" y="45.5" width="237" height="2.2" fill="#949494"/>
<rect x="0" y="47.7" width="237" height="4.3" fill="#808080"/>
<rect x="0" y="52" width="237" height="3" fill="#949494"/>
<rect x="0" y="55" width="237" height="2.5" fill="#7a7a7a"/>
<rect x="0" y="57.5" width="237" height="3.6" fill="#949494"/>
<rect x="0" y="61.1" width="237" height="2.3" fill="#ababab"/>
<rect x="0" y="63.4" width="237" height="3.8" fill="#9e9e9e"/>
<rect x="0" y="67.2" width="237" height="2.6" fill="#bdbdbd"/>
<rect x="0" y="69.8" width="237" height="3.5" fill="#808080"/>
<rect x="0" y="73.3" width="237" height="2.3" fill="#737373"/>
<rect x="0" y="75.6" width="237" height="6.1" fill="#9e9e9e"/>
<rect x="0" y="81.7" width="237" height="2.7" fill="#919191"/>
<rect x="0" y="84.4" width="237" height="3.9" fill="#9e9e9e"/>
<rect x="0" y="88.3" width="237" height="2.2" fill="#adadad"/>
<rect x="0" y="90.5" width="237" height="1.7" fill="#999999"/>
<rect x="0" y="92.2" width="237" height="2.2" fill="#808080"/>
<rect x="0" y="94.4" width="237" height="1.7" fill="#919191"/>
<rect x="0" y="96.1" width="237" height="2.8" fill="#737373"/>
<rect x="0" y="98.9" width="237" height="1.6" fill="#949494"/>
<rect x="0" y="100.5" width="237" height="1.5" fill="#adadad"/>
<rect x="0" y="102" width="237" height="3.5" fill="#949494"/>
<rect x="0" y="105.5" width="237" height="1.1" fill="#9e9e9e"/>
<rect x="0" y="106.6" width="237" height="1.7" fill="#ababab"/>
<rect x="0" y="108.3" width="237" height="9.5" fill="#a1a1a1"/>
<rect x="0" y="117.8" width="237" height="1.7" fill="#8f8f8f"/>
<rect x="0" y="119.5" width="237" height="3.9" fill="#a6a6a6"/>
<rect x="0" y="123.4" width="237" height="2.2" fill="#949494"/>
<rect x="0" y="125.6" width="237" height="1.6" fill="#9e9e9e"/>
<rect x="0" y="127.2" width="237" height="1.5" fill="#b2b2b2"/>
<rect x="0" y="128.7" width="237" height="1.9" fill="#9e9e9e"/>
<rect x="0" y="130.6" width="237" height="1.6" fill="#919191"/>
<rect x="0" y="132.2" width="237" height="7.8" fill="#9c9c9c"/>
<rect x="0" y="140" width="237" height="2" fill="#6e6e6e"/>
<rect x="0" y="142" width="237" height="1.9" fill="#858585"/>
<rect x="0" y="143.9" width="237" height="5" fill="#9c9c9c"/>
<rect x="0" y="148.9" width="237" height="1.1" fill="#919191"/>
<rect x="0" y="150" width="237" height="2.4" fill="#9e9e9e"/>
<rect x="0" y="152.4" width="237" height="4.3" fill="#7d7d7d"/>
<rect x="0" y="156.7" width="237" height="1.3" fill="#9e9e9e"/>
<rect x="0" y="158" width="237" height="1.8" fill="#b0b0b0"/>
<rect x="0" y="159.8" width="237" height="1.3" fill="#9e9e9e"/>
<rect x="0" y="161.1" width="237" height="1.7" fill="#919191"/>
<rect x="0" y="162.8" width="237" height="4.4" fill="#9e9e9e"/>
<rect x="0" y="167.2" width="237" height="3.3" fill="#b2b2b2"/>
<rect x="0" y="170.5" width="237" height="2.8" fill="#949494"/>
<rect x="0" y="173.3" width="237" height="3.9" fill="#9e9e9e"/>
<rect x="0" y="177.2" width="237" height="1.4" fill="#cfcfcf"/>
<rect x="0" y="178.6" width="237" height="1.5" fill="#a1a1a1"/>
<rect x="0" y="180.1" width="237" height="2.5" fill="#b8b8b8"/>
<rect x="0" y="182.6" width="237" height="5.5" fill="#8f8f8f"/>
<rect x="0" y="188.1" width="237" height="3.8" fill="#9c9c9c"/>
<rect x="0" y="191.9" width="237" height="2.5" fill="#8f8f8f"/>
<rect x="0" y="194.4" width="237" height="2.3" fill="#ababab"/>
<rect x="0" y="196.7" width="237" height="3.1" fill="#878787"/>
<rect x="0" y="199.8" width="237" height="2.5" fill="#707070"/>
<rect x="0" y="202.3" width="237" height="2.7" fill="#5e5e5e"/>
</g>
</g>
<rect x="0" y="0" width="237" height="205" fill="none" stroke="#000" stroke-width="1.2"/>
<path d="M61 205 v-3.5 M61 0 v3.5 M123 205 v-3.5 M123 0 v3.5 M184 205 v-3.5 M184 0 v3.5 M0 141 h3.5 M237 141 h-3.5 M0 77 h3.5 M237 77 h-3.5 M0 14 h3.5 M237 14 h-3.5" stroke="#000" stroke-width="1" fill="none" shape-rendering="crispEdges"/>
<g font-family="'Liberation Sans', Arial, sans-serif" font-size="15" fill="#000">
<text x="0.3" y="220.2" text-anchor="middle">0</text>
<text x="61.8" y="220.2" text-anchor="middle">100</text>
<text x="123.2" y="220.2" text-anchor="middle">200</text>
<text x="184.7" y="220.2" text-anchor="middle">300</text>
<text x="-3.2" y="209.2" text-anchor="end">0</text>
<text x="-3.2" y="146.5" text-anchor="end">40</text>
<text x="-3.2" y="82.8" text-anchor="end">80</text>
<text x="-3.2" y="19" text-anchor="end">120</text>
<text x="118" y="-11.7" text-anchor="middle" font-size="16.4">Emotion spectrum</text>
<text x="118.2" y="239.3" text-anchor="middle" font-size="16.4">(c)</text>
</g>
</g>
<g transform="translate(38.5,328.4)">
<g filter="url(#jet_d)">
<rect x="0" y="0" width="237" height="205" fill="#949494"/>
<g filter="url(#bl4)">
<rect x="14" y="15" width="8" height="60" fill="#7a7a7a"/>
<rect x="43" y="25" width="13" height="85" fill="#808080"/>
<rect x="63" y="10" width="10" height="100" fill="#858585"/>
<rect x="100" y="20" width="22" height="90" fill="#808080"/>
<rect x="143" y="5" width="5" height="95" fill="#858585"/>
<rect x="158" y="5" width="12" height="115" fill="#8a8a8a"/>
<rect x="180" y="15" width="8" height="105" fill="#808080"/>
<rect x="220" y="5" width="17" height="200" fill="#858585"/>
<rect x="222" y="15" width="15" height="30" fill="#787878"/>
<rect x="160" y="120" width="30" height="70" fill="#9c9c9c"/>
</g>
<g filter="url(#bl3)">
<rect x="0" y="118" width="125" height="74" fill="#9e9e9e" opacity="0.8"/>
<rect x="186" y="118" width="38" height="74" fill="#9e9e9e" opacity="0.8"/>
</g>
<g filter="url(#bl2)">
<rect x="0" y="195" width="237" height="10" fill="#7a7a7a"/>
</g>
<g filter="url(#bl4)">
<rect x="102" y="40" width="20" height="20" fill="#787878"/>
<rect x="180" y="20" width="7" height="20" fill="#757575"/>
</g>
<g filter="url(#bl0_7)">
<rect x="0" y="0" width="237" height="2.6" fill="#262626"/>
<rect x="0" y="2.6" width="237" height="1.8" fill="#404040"/>
<rect x="0" y="4.4" width="237" height="1.6" fill="#616161"/>
<rect x="0" y="6" width="237" height="2" fill="#808080" opacity="0.7"/>
</g>
<g filter="url(#bl1_2)">
<rect x="3" y="8" width="3.5" height="108" fill="#b8b8b8"/>
</g>
<g filter="url(#bl1_6)">
<rect x="6" y="10" width="7" height="106" fill="#adadad"/>
</g>
<g filter="url(#bl1_1)">
<ellipse cx="8.3" cy="19.7" rx="3.2" ry="4.2" fill="#e0e0e0"/>
</g>
<g filter="url(#bl1)">
<ellipse cx="17" cy="28.7" rx="1.8" ry="3" fill="#b8b8b8"/>
</g>
<g filter="url(#bl1_1)">
<ellipse cx="8.3" cy="38.8" rx="3.2" ry="4.2" fill="#e0e0e0"/>
</g>
<g filter="url(#bl1)">
<ellipse cx="17" cy="47.8" rx="1.8" ry="3" fill="#b8b8b8"/>
</g>
<g filter="url(#bl1_1)">
<ellipse cx="8.3" cy="56.4" rx="3.2" ry="4.2" fill="#e6e6e6"/>
</g>
<g filter="url(#bl1)">
<ellipse cx="17" cy="65.4" rx="1.8" ry="3" fill="#b8b8b8"/>
</g>
<g filter="url(#bl1_1)">
<ellipse cx="8.3" cy="74.7" rx="3.2" ry="4.2" fill="#f7f7f7"/>
</g>
<g filter="url(#bl1)">
<ellipse cx="17" cy="83.7" rx="1.8" ry="3" fill="#b8b8b8"/>
</g>
<g filter="url(#bl1_1)">
<ellipse cx="8.3" cy="93" rx="3.2" ry="4.2" fill="#ededed"/>
</g>
<g filter="url(#bl1)">
<ellipse cx="17" cy="102" rx="1.8" ry="3" fill="#b8b8b8"/>
</g>
<g filter="url(#bl1_1)">
<ellipse cx="8.3" cy="111" rx="3.2" ry="4.2" fill="#e6e6e6"/>
</g>
<g filter="url(#bl1)">
<ellipse cx="17" cy="120" rx="1.8" ry="3" fill="#b8b8b8"/>
</g>
<g filter="url(#bl0_8)">
<path d="M13.8 12 12.3 40 10.8 79 9.5 116" stroke="#e0e0e0" stroke-width="2.2" fill="none" stroke-linecap="round" stroke-linejoin="round"/>
</g>
<g filter="url(#bl1_3)">
<polygon points="22,7 27,7 29.5,58 24,58" fill="#c2c2c2"/>
</g>
<g filter="url(#bl0_9)">
<path d="M26.8 56 27.8 116" stroke="#c7c7c7" stroke-width="2" fill="none" stroke-linecap="round" stroke-linejoin="round"/>
</g>
<g filter="url(#bl1_5)">
<rect x="30.6" y="6" width="11.4" height="94" fill="#d1d1d1"/>
<rect x="30.6" y="100" width="11.4" height="25" fill="#cccccc"/>
<rect x="30.6" y="125" width="11.4" height="15" fill="#c7c7c7"/>
<rect x="30.6" y="140" width="11.4" height="25" fill="#bababa"/>
<rect x="30.6" y="165" width="11.4" height="15" fill="#adadad"/>
<rect x="32" y="8" width="7.5" height="97" fill="#dedede"/>
</g>
<g filter="url(#bl1)">
<ellipse cx="42" cy="30" rx="1.8" ry="3" fill="#bfbfbf"/>
<ellipse cx="42" cy="48" rx="1.8" ry="3" fill="#bfbfbf"/>
<ellipse cx="42" cy="67" rx="1.8" ry="3" fill="#bfbfbf"/>
<ellipse cx="42" cy="85" rx="1.8" ry="3" fill="#bfbfbf"/>
<ellipse cx="42" cy="104" rx="1.8" ry="3" fill="#bfbfbf"/>
</g>
<g filter="url(#bl0_9)">
<ellipse cx="41.5" cy="128.7" rx="1.5" ry="2.5" fill="#ebebeb"/>
<ellipse cx="41.5" cy="146.3" rx="1.5" ry="2.5" fill="#ebebeb"/>
<ellipse cx="41.5" cy="165.4" rx="1.7" ry="2.6" fill="#ebebeb"/>
<path d="M40 185 43 186 46.5 186.5 50 184.5 53.5 182" stroke="#f0f0f0" stroke-width="3.6" fill="none" stroke-linecap="round" stroke-linejoin="round"/>
<path d="M48.5 165.5 52.5 162.5" stroke="#bfbfbf" stroke-width="2.4" fill="none" stroke-linecap="round" stroke-linejoin="round"/>
<path d="M48.5 148 52 146" stroke="#b2b2b2" stroke-width="2" fill="none" stroke-linecap="round" stroke-linejoin="round"/>
</g>
<g filter="url(#bl1_1)">
<ellipse cx="49.3" cy="21" rx="1.8" ry="6.5" fill="#b8b8b8"/>
</g>
<g filter="url(#bl1)">
<path d="M50 32 51 100" stroke="#a8a8a8" stroke-width="1.6" fill="none" stroke-linecap="round" stroke-linejoin="round" opacity="0.8"/>
</g>
<g filter="url(#bl1_3)">
<rect x="56.3" y="37.5" width="6.3" height="22.5" fill="#c2c2c2"/>
<rect x="56.3" y="60" width="6.3" height="56" fill="#d1d1d1"/>
<rect x="56.3" y="116" width="6.3" height="80" fill="#f2f2f2"/>
</g>
<g filter="url(#bl0_9)">
<ellipse cx="62.5" cy="134" rx="1.4" ry="2.4" fill="#e6e6e6"/>
<ellipse cx="62.5" cy="150" rx="1.4" ry="2.4" fill="#e6e6e6"/>
<ellipse cx="62.5" cy="164" rx="1.4" ry="2.4" fill="#e6e6e6"/>
<ellipse cx="62.5" cy="172.5" rx="1.4" ry="2.4" fill="#e6e6e6"/>
<ellipse cx="62.5" cy="182" rx="1.4" ry="2.4" fill="#e6e6e6"/>
<path d="M67 28 68 64" stroke="#adadad" stroke-width="1.4" fill="none" stroke-linecap="round" stroke-linejoin="round" opacity="0.8"/>
</g>
<g filter="url(#bl1_6)">
<rect x="74.5" y="8" width="9" height="102" fill="#b0b0b0"/>
</g>
<g filter="url(#bl1)">
<path d="M75 8 77.5 18 80 60 81.5 79" stroke="#cccccc" stroke-width="3.2" fill="none" stroke-linecap="round" stroke-linejoin="round"/>
<path d="M82.5 7 83.5 57" stroke="#c7c7c7" stroke-width="3.2" fill="none" stroke-linecap="round" stroke-linejoin="round"/>
<path d="M76 40 79 90 81 116" stroke="#cccccc" stroke-width="2.6" fill="none" stroke-linecap="round" stroke-linejoin="round"/>
</g>
<g filter="url(#bl0_9)">
<path d="M75 14 78.5 23" stroke="#dbdbdb" stroke-width="2.4" fill="none" stroke-linecap="round" stroke-linejoin="round"/>
<path d="M75.5 31 79 40" stroke="#dbdbdb" stroke-width="2.4" fill="none" stroke-linecap="round" stroke-linejoin="round"/>
<path d="M76 48 79.5 57" stroke="#dbdbdb" stroke-width="2.4" fill="none" stroke-linecap="round" stroke-linejoin="round"/>
<path d="M76.5 65 80 74" stroke="#dbdbdb" stroke-width="2.4" fill="none" stroke-linecap="round" stroke-linejoin="round"/>
<path d="M77 82 80.5 91" stroke="#dbdbdb" stroke-width="2.4" fill="none" stroke-linecap="round" stroke-linejoin="round"/>
<path d="M77.5 99 81 108" stroke="#dbdbdb" stroke-width="2.4" fill="none" stroke-linecap="round" stroke-linejoin="round"/>
</g>
<g filter="url(#bl1)">
<path d="M91 57 92 116" stroke="#c2c2c2" stroke-width="2.6" fill="none" stroke-linecap="round" stroke-linejoin="round"/>
</g>
<g filter="url(#bl2_5)">
<rect x="74" y="60" width="18" height="60" fill="#a8a8a8" opacity="0.8"/>
</g>
<g filter="url(#bl1_2)">
<rect x="93.8" y="6" width="6.2" height="110" fill="#dbdbdb"/>
</g>
<g filter="url(#bl1)">
<ellipse cx="102" cy="11" rx="1.8" ry="3" fill="#c2c2c2"/>
<ellipse cx="102" cy="30" rx="1.8" ry="3" fill="#c2c2c2"/>
<ellipse cx="102" cy="49" rx="1.8" ry="3" fill="#c2c2c2"/>
<ellipse cx="102" cy="66" rx="1.8" ry="3" fill="#c2c2c2"/>
<ellipse cx="102" cy="84" rx="1.8" ry="3" fill="#c2c2c2"/>
<ellipse cx="102" cy="102" rx="1.8" ry="3" fill="#c2c2c2"/>
<path d="M97 116 95.5 150 93.5 176.6" stroke="#d9d9d9" stroke-width="3.2" fill="none" stroke-linecap="round" stroke-linejoin="round"/>
</g>
<g filter="url(#bl1_5)">
<path d="M3.5 186 7 185.6 11 183.7 15 180.5 17.8 178.8 20.5 180 22 182.5 24.5 188 26.5 192.5" stroke="#b8b8b8" stroke-width="8.6" fill="none" stroke-linecap="round" stroke-linejoin="round" opacity="0.85"/>
</g>
<g filter="url(#bl0_9)">
<path d="M3.5 186 7 185.6 11 183.7 15 180.5 17.8 178.8 20.5 180 22 182.5 24.5 188 26.5 192.5" stroke="#f2f2f2" stroke-width="4.6" fill="none" stroke-linecap="round" stroke-linejoin="round"/>
</g>
<g filter="url(#bl0_7)">
<path d="M3.5 186 7 185.6 11 183.7 15 180.5 17.8 178.8 20.5 180 22 182.5 24.5 188 26.5 192.5" stroke="#fcfcfc" stroke-width="2.4" fill="none" stroke-linecap="round" stroke-linejoin="round"/>
</g>
<g filter="url(#bl1_5)">
<path d="M3.5 169.6 6 168 9.5 164 14 158 17.8 154 20.5 156 22.5 160.5 24.5 168 26.3 178" stroke="#b8b8b8" stroke-width="8.6" fill="none" stroke-linecap="round" stroke-linejoin="round" opacity="0.85"/>
</g>
<g filter="url(#bl0_9)">
<path d="M3.5 169.6 6 168 9.5 164 14 158 17.8 154 20.5 156 22.5 160.5 24.5 168 26.3 178" stroke="#f2f2f2" stroke-width="4.6" fill="none" stroke-linecap="round" stroke-linejoin="round"/>
</g>
<g filter="url(#bl0_7)">
<path d="M3.5 169.6 6 168 9.5 164 14 158 17.8 154 20.5 156 22.5 160.5 24.5 168 26.3 178" stroke="#fcfcfc" stroke-width="2.4" fill="none" stroke-linecap="round" stroke-linejoin="round"/>
</g>
<g filter="url(#bl1_5)">
<path d="M4.5 150.5 7 148 10.8 141.4 14.5 134 17.8 129.4 20 131 22 137 24 146 26.3 162.5" stroke="#b8b8b8" stroke-width="8.6" fill="none" stroke-linecap="round" stroke-linejoin="round" opacity="0.85"/>
</g>
<g filter="url(#bl0_9)">
<path d="M4.5 150.5 7 148 10.8 141.4 14.5 134 17.8 129.4 20 131 22 137 24 146 26.3 162.5" stroke="#f2f2f2" stroke-width="4.6" fill="none" stroke-linecap="round" stroke-linejoin="round"/>
</g>
<g filter="url(#bl0_7)">
<path d="M4.5 150.5 7 148 10.8 141.4 14.5 134 17.8 129.4 20 131 22 137 24 146 26.3 162.5" stroke="#fcfcfc" stroke-width="2.4" fill="none" stroke-linecap="round" stroke-linejoin="round"/>
</g>
<g filter="url(#bl1_5)">
<path d="M5 131.5 8 127 10.8 123 13.5 116" stroke="#b8b8b8" stroke-width="8" fill="none" stroke-linecap="round" stroke-linejoin="round" opacity="0.85"/>
</g>
<g filter="url(#bl0_9)">
<path d="M5 131.5 8 127 10.8 123 13.5 116" stroke="#e6e6e6" stroke-width="4" fill="none" stroke-linecap="round" stroke-linejoin="round"/>
</g>
<g filter="url(#bl0_7)">
<path d="M5 131.5 8 127 10.8 123 13.5 116" stroke="#f0f0f0" stroke-width="1.8" fill="none" stroke-linecap="round" stroke-linejoin="round"/>
</g>
<g filter="url(#bl0_8)">
<path d="M23.5 116 25.5 140 27 172.5 28.4 195" stroke="#e0e0e0" stroke-width="1.6" fill="none" stroke-linecap="round" stroke-linejoin="round"/>
</g>
<g filter="url(#bl1_5)">
<path d="M64.4 189.3 70 186.5 75 184.3 78.5 183.7 82 185.5 85.5 189.3 89 191 92.6 190.7" stroke="#b8b8b8" stroke-width="8.6" fill="none" stroke-linecap="round" stroke-linejoin="round" opacity="0.85"/>
</g>
<g filter="url(#bl0_9)">
<path d="M64.4 189.3 70 186.5 75 184.3 78.5 183.7 82 185.5 85.5 189.3 89 191 92.6 190.7" stroke="#f2f2f2" stroke-width="4.6" fill="none" stroke-linecap="round" stroke-linejoin="round"/>
</g>
<g filter="url(#bl0_7)">
<path d="M64.4 189.3 70 186.5 75 184.3 78.5 183.7 82 185.5 85.5 189.3 89 191 92.6 190.7" stroke="#fcfcfc" stroke-width="2.4" fill="none" stroke-linecap="round" stroke-linejoin="round"/>
</g>
<g filter="url(#bl1_5)">
<path d="M63 182.3 66 178 70 172.4 75 167.3 78.5 165.4 82 168.5 85.5 175 88 179.5 90 181 93.3 176.6" stroke="#b8b8b8" stroke-width="8.6" fill="none" stroke-linecap="round" stroke-linejoin="round" opacity="0.85"/>
</g>
<g filter="url(#bl0_9)">
<path d="M63 182.3 66 178 70 172.4 75 167.3 78.5 165.4 82 168.5 85.5 175 88 179.5 90 181 93.3 176.6" stroke="#f2f2f2" stroke-width="4.6" fill="none" stroke-linecap="round" stroke-linejoin="round"/>
</g>
<g filter="url(#bl0_7)">
<path d="M63 182.3 66 178 70 172.4 75 167.3 78.5 165.4 82 168.5 85.5 175 88 179.5 90 181 93.3 176.6" stroke="#fcfcfc" stroke-width="2.4" fill="none" stroke-linecap="round" stroke-linejoin="round"/>
</g>
<g filter="url(#bl1_5)">
<path d="M65.8 172.5 69 163 72.8 152.7 76 147.3 78.5 145.6 81.5 148 84 152.7 87.5 157.5 89 158.3" stroke="#b8b8b8" stroke-width="8.6" fill="none" stroke-linecap="round" stroke-linejoin="round" opacity="0.85"/>
</g>
<g filter="url(#bl0_9)">
<path d="M65.8 172.5 69 163 72.8 152.7 76 147.3 78.5 145.6 81.5 148 84 152.7 87.5 157.5 89 158.3" stroke="#f2f2f2" stroke-width="4.6" fill="none" stroke-linecap="round" stroke-linejoin="round"/>
</g>
<g filter="url(#bl0_7)">
<path d="M65.8 172.5 69 163 72.8 152.7 76 147.3 78.5 145.6 81.5 148 84 152.7 87.5 157.5 89 158.3" stroke="#fcfcfc" stroke-width="2.4" fill="none" stroke-linecap="round" stroke-linejoin="round"/>
</g>
<g filter="url(#bl1_5)">
<path d="M68.6 151 71.5 141 74.2 134 76.5 129.5 78.5 127 81 130.5 84 138.6 86.5 146 88.3 152.7" stroke="#b8b8b8" stroke-width="8.2" fill="none" stroke-linecap="round" stroke-linejoin="round" opacity="0.85"/>
</g>
<g filter="url(#bl0_9)">
<path d="M68.6 151 71.5 141 74.2 134 76.5 129.5 78.5 127 81 130.5 84 138.6 86.5 146 88.3 152.7" stroke="#f2f2f2" stroke-width="4.2" fill="none" stroke-linecap="round" stroke-linejoin="round"/>
</g>
<g filter="url(#bl0_7)">
<path d="M68.6 151 71.5 141 74.2 134 76.5 129.5 78.5 127 81 130.5 84 138.6 86.5 146 88.3 152.7" stroke="#fcfcfc" stroke-width="2" fill="none" stroke-linecap="round" stroke-linejoin="round"/>
</g>
<g filter="url(#bl1_5)">
<path d="M72.8 126 75 120 76.4 116" stroke="#b8b8b8" stroke-width="7.6" fill="none" stroke-linecap="round" stroke-linejoin="round" opacity="0.85"/>
</g>
<g filter="url(#bl0_9)">
<path d="M72.8 126 75 120 76.4 116" stroke="#e0e0e0" stroke-width="3.6" fill="none" stroke-linecap="round" stroke-linejoin="round"/>
</g>
<g filter="url(#bl0_7)">
<path d="M72.8 126 75 120 76.4 116" stroke="#ebebeb" stroke-width="1.4" fill="none" stroke-linecap="round" stroke-linejoin="round"/>
</g>
<g filter="url(#bl0_8)">
<path d="M86 116 88 135 89.5 155 90 176" stroke="#d9d9d9" stroke-width="1.6" fill="none" stroke-linecap="round" stroke-linejoin="round"/>
</g>
<g filter="url(#bl1_2)">
<path d="M100.5 128.7 118 128.7" stroke="#a8a8a8" stroke-width="3" fill="none" stroke-linecap="round" stroke-linejoin="round"/>
<path d="M100.5 141 118 141" stroke="#b8b8b8" stroke-width="3.6" fill="none" stroke-linecap="round" stroke-linejoin="round"/>
</g>
<g filter="url(#bl1_5)">
<path d="M101 147.7 121.5 147.7" stroke="#b8b8b8" stroke-width="9.4" fill="none" stroke-linecap="round" stroke-linejoin="round" opacity="0.85"/>
</g>
<g filter="url(#bl0_9)">
<path d="M101 147.7 121.5 147.7" stroke="#dbdbdb" stroke-width="5.4" fill="none" stroke-linecap="round" stroke-linejoin="round"/>
</g>
<g filter="url(#bl0_7)">
<path d="M101 147.7 121.5 147.7" stroke="#e6e6e6" stroke-width="3.2" fill="none" stroke-linecap="round" stroke-linejoin="round"/>
</g>
<g filter="url(#bl1_5)">
<path d="M100.5 166 121.5 166" stroke="#b8b8b8" stroke-width="9.6" fill="none" stroke-linecap="round" stroke-linejoin="round" opacity="0.85"/>
</g>
<g filter="url(#bl0_9)">
<path d="M100.5 166 121.5 166" stroke="#ebebeb" stroke-width="5.6" fill="none" stroke-linecap="round" stroke-linejoin="round"/>
</g>
<g filter="url(#bl0_7)">
<path d="M100.5 166 121.5 166" stroke="#f5f5f5" stroke-width="3.4" fill="none" stroke-linecap="round" stroke-linejoin="round"/>
</g>
<g filter="url(#bl1_5)">
<path d="M100 185 121.5 185" stroke="#b8b8b8" stroke-width="10" fill="none" stroke-linecap="round" stroke-linejoin="round" opacity="0.85"/>
</g>
<g filter="url(#bl0_9)">
<path d="M100 185 121.5 185" stroke="#fafafa" stroke-width="6" fill="none" stroke-linecap="round" stroke-linejoin="round"/>
</g>
<g filter="url(#bl0_7)">
<path d="M100 185 121.5 185" stroke="#ffffff" stroke-width="3.8" fill="none" stroke-linecap="round" stroke-linejoin="round"/>
</g>
<g filter="url(#bl1)">
<ellipse cx="119.5" cy="69.5" rx="1.8" ry="2.4" fill="#adadad"/>
<ellipse cx="119.5" cy="88" rx="1.8" ry="2.4" fill="#adadad"/>
<ellipse cx="119.5" cy="107.5" rx="1.8" ry="2.4" fill="#adadad"/>
<ellipse cx="119.5" cy="124.5" rx="2" ry="2.4" fill="#b8b8b8"/>
</g>
<g filter="url(#bl1_5)">
<rect x="126" y="8" width="5" height="108" fill="#9e9e9e"/>
</g>
<g filter="url(#bl0_8)">
<path d="M126 7 128 20 130.5 35" stroke="#d6d6d6" stroke-width="2.2" fill="none" stroke-linecap="round" stroke-linejoin="round"/>
<path d="M125.5 30 127.5 60 130 85" stroke="#d9d9d9" stroke-width="2" fill="none" stroke-linecap="round" stroke-linejoin="round"/>
<path d="M128.5 25 130.5 60 132 95" stroke="#cccccc" stroke-width="1.5" fill="none" stroke-linecap="round" stroke-linejoin="round"/>
<path d="M126 88 128 112" stroke="#e0e0e0" stroke-width="2.4" fill="none" stroke-linecap="round" stroke-linejoin="round"/>
</g>
<g filter="url(#bl0_9)">
<path d="M126.2 123 129.8 137" stroke="#ededed" stroke-width="2.6" fill="none" stroke-linecap="round" stroke-linejoin="round"/>
<path d="M127 143 131 154" stroke="#ededed" stroke-width="2.8" fill="none" stroke-linecap="round" stroke-linejoin="round"/>
<path d="M125.6 161 128.5 168 132.6 172.5" stroke="#ededed" stroke-width="3" fill="none" stroke-linecap="round" stroke-linejoin="round"/>
<path d="M124.8 181 128 186 134 189.5 138 191 141.5 190.5" stroke="#ededed" stroke-width="3.2" fill="none" stroke-linecap="round" stroke-linejoin="round"/>
</g>
<g filter="url(#bl1_4)">
<rect x="134" y="8" width="9.5" height="42" fill="#bdbdbd"/>
<rect x="134" y="50" width="9.5" height="66" fill="#d1d1d1"/>
<rect x="134" y="116" width="9.5" height="59" fill="#dedede"/>
<rect x="134" y="175" width="9.5" height="11" fill="#c7c7c7"/>
<rect x="135.5" y="45" width="6" height="55" fill="#dbdbdb"/>
<rect x="135.5" y="100" width="6" height="70" fill="#ebebeb"/>
</g>
<g filter="url(#bl1)">
<ellipse cx="137.5" cy="175.5" rx="2.2" ry="2.6" fill="#b8b8b8"/>
</g>
<g filter="url(#bl1_4)">
<rect x="147.4" y="8" width="6.1" height="34" fill="#a3a3a3"/>
<rect x="147.4" y="42" width="8.9" height="18" fill="#bdbdbd"/>
<rect x="147.4" y="60" width="8.9" height="56" fill="#d1d1d1"/>
<rect x="147.4" y="116" width="8.9" height="56" fill="#e0e0e0"/>
<rect x="147.4" y="172" width="8.9" height="24" fill="#b8b8b8"/>
</g>
<g filter="url(#bl1_2)">
<rect x="148.5" y="60" width="4.5" height="105" fill="#ededed"/>
</g>
<g filter="url(#bl1_1)">
<ellipse cx="160" cy="170" rx="2.3" ry="2.4" fill="#b2b2b2"/>
<ellipse cx="160" cy="181" rx="2.3" ry="2.4" fill="#b2b2b2"/>
<ellipse cx="160" cy="192" rx="2.3" ry="2.4" fill="#b2b2b2"/>
<ellipse cx="158.5" cy="130" rx="1.6" ry="2.4" fill="#adadad"/>
<ellipse cx="158.5" cy="145" rx="1.6" ry="2.4" fill="#adadad"/>
<ellipse cx="158.5" cy="158" rx="1.6" ry="2.4" fill="#adadad"/>
</g>
<g filter="url(#bl1_6)">
<ellipse cx="174.8" cy="15.5" rx="3.8" ry="7" fill="#b0b0b0"/>
<ellipse cx="174.8" cy="39" rx="3.8" ry="8" fill="#b2b2b2"/>
<ellipse cx="175" cy="80" rx="4" ry="11" fill="#b2b2b2"/>
<path d="M175 55 175 100" stroke="#a3a3a3" stroke-width="4" fill="none" stroke-linecap="round" stroke-linejoin="round" opacity="0.7"/>
</g>
<g filter="url(#bl1)">
<rect x="188.3" y="8" width="3.7" height="108" fill="#bdbdbd"/>
</g>
<g filter="url(#bl0_9)">
<ellipse cx="190.5" cy="19" rx="1.5" ry="2.6" fill="#c7c7c7"/>
<ellipse cx="190.5" cy="33" rx="1.5" ry="2.6" fill="#c7c7c7"/>
<ellipse cx="190.5" cy="47" rx="1.5" ry="2.6" fill="#c7c7c7"/>
<ellipse cx="190.5" cy="61" rx="1.5" ry="2.6" fill="#c7c7c7"/>
<ellipse cx="190.5" cy="75" rx="1.5" ry="2.6" fill="#c7c7c7"/>
<ellipse cx="190.5" cy="89" rx="1.5" ry="2.6" fill="#c7c7c7"/>
<ellipse cx="190.5" cy="103" rx="1.5" ry="2.6" fill="#c7c7c7"/>
</g>
<g filter="url(#bl1_2)">
<rect x="190" y="116" width="6.5" height="80" fill="#c7c7c7"/>
</g>
<g filter="url(#bl1)">
<ellipse cx="193" cy="131.5" rx="3.6" ry="2.6" fill="#f7f7f7"/>
<ellipse cx="193" cy="146.3" rx="3.6" ry="2.6" fill="#f7f7f7"/>
<ellipse cx="193" cy="159.7" rx="3.6" ry="2.6" fill="#f7f7f7"/>
<ellipse cx="193" cy="173.8" rx="3.6" ry="2.6" fill="#f7f7f7"/>
<ellipse cx="193" cy="189.3" rx="3.6" ry="2.6" fill="#f7f7f7"/>
</g>
<g filter="url(#bl1_4)">
<rect x="193" y="8" width="4" height="108" fill="#a3a3a3"/>
</g>
<g filter="url(#bl1_5)">
<rect x="196.6" y="8" width="9.4" height="22" fill="#bdbdbd"/>
<rect x="196.6" y="30" width="9.4" height="86" fill="#cccccc"/>
</g>
<g filter="url(#bl1_1)">
<ellipse cx="203.5" cy="38" rx="2.2" ry="3.6" fill="#e6e6e6"/>
<ellipse cx="203.5" cy="52" rx="2.2" ry="3.6" fill="#e6e6e6"/>
<ellipse cx="203.5" cy="65" rx="2.2" ry="3.6" fill="#e6e6e6"/>
<ellipse cx="203.5" cy="82" rx="2.2" ry="3.6" fill="#e6e6e6"/>
</g>
<g filter="url(#bl1)">
<ellipse cx="202" cy="11.5" rx="1.7" ry="3" fill="#cccccc"/>
</g>
<g filter="url(#bl1_4)">
<rect x="209.5" y="6" width="10" height="39" fill="#d9d9d9"/>
<rect x="209.5" y="45" width="10" height="17" fill="#c7c7c7"/>
</g>
<g filter="url(#bl1_3)">
<rect x="212" y="10" width="5" height="30" fill="#e0e0e0"/>
</g>
<g filter="url(#bl1_1)">
<path d="M212.5 62 214 90 216 116" stroke="#c7c7c7" stroke-width="4" fill="none" stroke-linecap="round" stroke-linejoin="round"/>
</g>
<g filter="url(#bl1)">
<path d="M217.5 50 218.5 100 219.5 140" stroke="#b2b2b2" stroke-width="1.8" fill="none" stroke-linecap="round" stroke-linejoin="round"/>
</g>
<g filter="url(#bl1_5)">
<path d="M201.8 190 205 189.8 208.8 189.3 212.5 187.5 215.8 185 220 183.7" stroke="#b8b8b8" stroke-width="9.2" fill="none" stroke-linecap="round" stroke-linejoin="round" opacity="0.85"/>
</g>
<g filter="url(#bl0_9)">
<path d="M201.8 190 205 189.8 208.8 189.3 212.5 187.5 215.8 185 220 183.7" stroke="#f2f2f2" stroke-width="5.2" fill="none" stroke-linecap="round" stroke-linejoin="round"/>
</g>
<g filter="url(#bl0_7)">
<path d="M201.8 190 205 189.8 208.8 189.3 212.5 187.5 215.8 185 220 183.7" stroke="#fcfcfc" stroke-width="3" fill="none" stroke-linecap="round" stroke-linejoin="round"/>
</g>
<g filter="url(#bl1_5)">
<path d="M201.8 176.6 205 176.3 208.8 175 212.5 171.5 215.8 166.8 219.3 162.5" stroke="#b8b8b8" stroke-width="8.8" fill="none" stroke-linecap="round" stroke-linejoin="round" opacity="0.85"/>
</g>
<g filter="url(#bl0_9)">
<path d="M201.8 176.6 205 176.3 208.8 175 212.5 171.5 215.8 166.8 219.3 162.5" stroke="#f2f2f2" stroke-width="4.8" fill="none" stroke-linecap="round" stroke-linejoin="round"/>
</g>
<g filter="url(#bl0_7)">
<path d="M201.8 176.6 205 176.3 208.8 175 212.5 171.5 215.8 166.8 219.3 162.5" stroke="#fcfcfc" stroke-width="2.6" fill="none" stroke-linecap="round" stroke-linejoin="round"/>
</g>
<g filter="url(#bl1_5)">
<path d="M201.8 162.5 204 162.2 207.3 161 211 157.5 214.4 152.7 218.6 144" stroke="#b8b8b8" stroke-width="8.6" fill="none" stroke-linecap="round" stroke-linejoin="round" opacity="0.85"/>
</g>
<g filter="url(#bl0_9)">
<path d="M201.8 162.5 204 162.2 207.3 161 211 157.5 214.4 152.7 218.6 144" stroke="#ededed" stroke-width="4.6" fill="none" stroke-linecap="round" stroke-linejoin="round"/>
</g>
<g filter="url(#bl0_7)">
<path d="M201.8 162.5 204 162.2 207.3 161 211 157.5 214.4 152.7 218.6 144" stroke="#f7f7f7" stroke-width="2.4" fill="none" stroke-linecap="round" stroke-linejoin="round"/>
</g>
<g filter="url(#bl1_5)">
<path d="M202.4 150 204 149.4 206.6 148.4 210 145.5 213 141.4 215.5 136 217.2 130" stroke="#b8b8b8" stroke-width="8" fill="none" stroke-linecap="round" stroke-linejoin="round" opacity="0.85"/>
</g>
<g filter="url(#bl0_9)">
<path d="M202.4 150 204 149.4 206.6 148.4 210 145.5 213 141.4 215.5 136 217.2 130" stroke="#e0e0e0" stroke-width="4" fill="none" stroke-linecap="round" stroke-linejoin="round"/>
</g>
<g filter="url(#bl0_7)">
<path d="M202.4 150 204 149.4 206.6 148.4 210 145.5 213 141.4 215.5 136 217.2 130" stroke="#ebebeb" stroke-width="1.8" fill="none" stroke-linecap="round" stroke-linejoin="round"/>
</g>
<g filter="url(#bl1_5)">
<path d="M202.4 134.5 205 133 208.8 131.5 212 128 215.8 123" stroke="#b8b8b8" stroke-width="7.6" fill="none" stroke-linecap="round" stroke-linejoin="round" opacity="0.85"/>
</g>
<g filter="url(#bl0_9)">
<path d="M202.4 134.5 205 133 208.8 131.5 212 128 215.8 123" stroke="#c2c2c2" stroke-width="3.6" fill="none" stroke-linecap="round" stroke-linejoin="round"/>
</g>
<g filter="url(#bl0_7)">
<path d="M202.4 134.5 205 133 208.8 131.5 212 128 215.8 123" stroke="#cccccc" stroke-width="1.4" fill="none" stroke-linecap="round" stroke-linejoin="round"/>
</g>
<g filter="url(#bl1)">
<ellipse cx="203.3" cy="121.6" rx="2" ry="2" fill="#b8b8b8"/>
</g>
<g>
<rect x="0" y="203.2" width="237" height="1.8" fill="#ebebeb"/>
</g>
</g>
<rect x="0" y="0" width="237" height="202.9" fill="none" stroke="#000" stroke-width="1.2"/>
<path d="M61 202.9 v-3.5 M61 0 v3.5 M123 202.9 v-3.5 M123 0 v3.5 M184 202.9 v-3.5 M184 0 v3.5 M0 140.1 h3.5 M237 140.1 h-3.5 M0 77.1 h3.5 M237 77.1 h-3.5 M0 13.1 h3.5 M237 13.1 h-3.5" stroke="#000" stroke-width="1" fill="none" shape-rendering="crispEdges"/>
<g font-family="'Liberation Sans', Arial, sans-serif" font-size="15" fill="#000">
<text x="0.3" y="219" text-anchor="middle">0</text>
<text x="61.8" y="219" text-anchor="middle">100</text>
<text x="123.2" y="219" text-anchor="middle">200</text>
<text x="184.7" y="219" text-anchor="middle">300</text>
<text x="-3.2" y="208" text-anchor="end">0</text>
<text x="-3.2" y="145.1" text-anchor="end">40</text>
<text x="-3.2" y="82" text-anchor="end">80</text>
<text x="-3.2" y="18.9" text-anchor="end">120</text>
<text x="118" y="-11.7" text-anchor="middle" font-size="16.4">Recovered spectrum</text>
<text x="118.2" y="238.1" text-anchor="middle" font-size="16.4">(d)</text>
</g>
</g>
<g transform="translate(350.5,328.4)">
<g filter="url(#jet_e)">
<rect x="0" y="0" width="237" height="205" fill="#949494"/>
<g filter="url(#bl4)">
<rect x="14" y="15" width="8" height="60" fill="#858585"/>
<rect x="43" y="25" width="13" height="85" fill="#8a8a8a"/>
<rect x="63" y="10" width="10" height="100" fill="#8f8f8f"/>
<rect x="100" y="20" width="22" height="90" fill="#8a8a8a"/>
<rect x="143" y="5" width="5" height="95" fill="#8f8f8f"/>
<rect x="158" y="5" width="12" height="115" fill="#949494"/>
<rect x="180" y="15" width="8" height="105" fill="#8a8a8a"/>
<rect x="220" y="5" width="17" height="200" fill="#8f8f8f"/>
<rect x="222" y="15" width="15" height="30" fill="#828282"/>
<rect x="160" y="120" width="30" height="70" fill="#a3a3a3"/>
</g>
<g filter="url(#bl3)">
<rect x="0" y="118" width="125" height="74" fill="#a5a5a5" opacity="0.8"/>
<rect x="186" y="118" width="38" height="74" fill="#a5a5a5" opacity="0.8"/>
</g>
<g filter="url(#bl2)">
<rect x="0" y="195" width="237" height="10" fill="#919191"/>
</g>
<g filter="url(#bl4)">
<rect x="102" y="40" width="20" height="20" fill="#828282"/>
<rect x="180" y="20" width="7" height="20" fill="#808080"/>
</g>
<g filter="url(#bl0_6)">
<rect x="0" y="0" width="237" height="2.2" fill="#2b2b2b"/>
<rect x="0" y="2.2" width="237" height="1.2" fill="#4c4c4c"/>
<rect x="0" y="3.4" width="237" height="1.4" fill="#6b6b6b"/>
</g>
<g filter="url(#bl0_7)">
<rect x="0" y="4.8" width="237" height="1.7" fill="#808080" opacity="0.6"/>
</g>
<g filter="url(#bl1_2)">
<rect x="3" y="8" width="3.5" height="108" fill="#b1b1b1"/>
</g>
<g filter="url(#bl1_6)">
<rect x="6" y="10" width="7" height="106" fill="#a9a9a9"/>
</g>
<g filter="url(#bl1_1)">
<ellipse cx="8.3" cy="19.7" rx="3.2" ry="4.2" fill="#d2d2d2"/>
</g>
<g filter="url(#bl1)">
<ellipse cx="17" cy="28.7" rx="1.8" ry="3" fill="#b1b1b1"/>
</g>
<g filter="url(#bl1_1)">
<ellipse cx="8.3" cy="38.8" rx="3.2" ry="4.2" fill="#d2d2d2"/>
</g>
<g filter="url(#bl1)">
<ellipse cx="17" cy="47.8" rx="1.8" ry="3" fill="#b1b1b1"/>
</g>
<g filter="url(#bl1_1)">
<ellipse cx="8.3" cy="56.4" rx="3.2" ry="4.2" fill="#d6d6d6"/>
</g>
<g filter="url(#bl1)">
<ellipse cx="17" cy="65.4" rx="1.8" ry="3" fill="#b1b1b1"/>
</g>
<g filter="url(#bl1_1)">
<ellipse cx="8.3" cy="74.7" rx="3.2" ry="4.2" fill="#ededed"/>
</g>
<g filter="url(#bl1)">
<ellipse cx="17" cy="83.7" rx="1.8" ry="3" fill="#b1b1b1"/>
</g>
<g filter="url(#bl1_1)">
<ellipse cx="8.3" cy="93" rx="3.2" ry="4.2" fill="#e0e0e0"/>
</g>
<g filter="url(#bl1)">
<ellipse cx="17" cy="102" rx="1.8" ry="3" fill="#b1b1b1"/>
</g>
<g filter="url(#bl1_1)">
<ellipse cx="8.3" cy="111" rx="3.2" ry="4.2" fill="#d6d6d6"/>
</g>
<g filter="url(#bl1)">
<ellipse cx="17" cy="120" rx="1.8" ry="3" fill="#b1b1b1"/>
</g>
<g filter="url(#bl0_8)">
<path d="M13.8 12 12.3 40 10.8 79 9.5 116" stroke="#d2d2d2" stroke-width="2.2" fill="none" stroke-linecap="round" stroke-linejoin="round"/>
</g>
<g filter="url(#bl1_3)">
<polygon points="22,7 27,7 29.5,58 24,58" fill="#bababa"/>
</g>
<g filter="url(#bl0_9)">
<path d="M26.8 56 27.8 116" stroke="#bebebe" stroke-width="2" fill="none" stroke-linecap="round" stroke-linejoin="round"/>
</g>
<g filter="url(#bl1_5)">
<rect x="30.6" y="6" width="11.4" height="94" fill="#c6c6c6"/>
<rect x="30.6" y="100" width="11.4" height="25" fill="#c2c2c2"/>
<rect x="30.6" y="125" width="11.4" height="15" fill="#bebebe"/>
<rect x="30.6" y="140" width="11.4" height="25" fill="#b4b4b4"/>
<rect x="30.6" y="165" width="11.4" height="15" fill="#a9a9a9"/>
<rect x="32" y="8" width="7.5" height="97" fill="#d0d0d0"/>
</g>
<g filter="url(#bl1)">
<ellipse cx="42" cy="30" rx="1.8" ry="3" fill="#b8b8b8"/>
<ellipse cx="42" cy="48" rx="1.8" ry="3" fill="#b8b8b8"/>
<ellipse cx="42" cy="67" rx="1.8" ry="3" fill="#b8b8b8"/>
<ellipse cx="42" cy="85" rx="1.8" ry="3" fill="#b8b8b8"/>
<ellipse cx="42" cy="104" rx="1.8" ry="3" fill="#b8b8b8"/>
</g>
<g filter="url(#bl0_9)">
<ellipse cx="41.5" cy="128.7" rx="1.5" ry="2.5" fill="#dddddd"/>
<ellipse cx="41.5" cy="146.3" rx="1.5" ry="2.5" fill="#dddddd"/>
<ellipse cx="41.5" cy="165.4" rx="1.7" ry="2.6" fill="#dddddd"/>
<path d="M40 185 43 186 46.5 186.5 50 184.5 53.5 182" stroke="#e3e3e3" stroke-width="3.6" fill="none" stroke-linecap="round" stroke-linejoin="round"/>
<path d="M48.5 165.5 52.5 162.5" stroke="#b8b8b8" stroke-width="2.4" fill="none" stroke-linecap="round" stroke-linejoin="round"/>
<path d="M48.5 148 52 146" stroke="#adadad" stroke-width="2" fill="none" stroke-linecap="round" stroke-linejoin="round"/>
</g>
<g filter="url(#bl1_1)">
<ellipse cx="49.3" cy="21" rx="1.8" ry="6.5" fill="#b1b1b1"/>
</g>
<g filter="url(#bl1)">
<path d="M50 32 51 100" stroke="#a5a5a5" stroke-width="1.6" fill="none" stroke-linecap="round" stroke-linejoin="round" opacity="0.8"/>
</g>
<g filter="url(#bl1_3)">
<rect x="56.3" y="37.5" width="6.3" height="22.5" fill="#bababa"/>
<rect x="56.3" y="60" width="6.3" height="56" fill="#c6c6c6"/>
<rect x="56.3" y="116" width="6.3" height="80" fill="#e7e7e7"/>
</g>
<g filter="url(#bl0_9)">
<ellipse cx="62.5" cy="134" rx="1.4" ry="2.4" fill="#d6d6d6"/>
<ellipse cx="62.5" cy="150" rx="1.4" ry="2.4" fill="#d6d6d6"/>
<ellipse cx="62.5" cy="164" rx="1.4" ry="2.4" fill="#d6d6d6"/>
<ellipse cx="62.5" cy="172.5" rx="1.4" ry="2.4" fill="#d6d6d6"/>
<ellipse cx="62.5" cy="182" rx="1.4" ry="2.4" fill="#d6d6d6"/>
<path d="M67 28 68 64" stroke="#a9a9a9" stroke-width="1.4" fill="none" stroke-linecap="round" stroke-linejoin="round" opacity="0.8"/>
</g>
<g filter="url(#bl1_6)">
<rect x="74.5" y="8" width="9" height="102" fill="#ababab"/>
</g>
<g filter="url(#bl1)">
<path d="M75 8 77.5 18 80 60 81.5 79" stroke="#c2c2c2" stroke-width="3.2" fill="none" stroke-linecap="round" stroke-linejoin="round"/>
<path d="M82.5 7 83.5 57" stroke="#bebebe" stroke-width="3.2" fill="none" stroke-linecap="round" stroke-linejoin="round"/>
<path d="M76 40 79 90 81 116" stroke="#c2c2c2" stroke-width="2.6" fill="none" stroke-linecap="round" stroke-linejoin="round"/>
</g>
<g filter="url(#bl0_9)">
<path d="M75 14 78.5 23" stroke="#cecece" stroke-width="2.4" fill="none" stroke-linecap="round" stroke-linejoin="round"/>
<path d="M75.5 31 79 40" stroke="#cecece" stroke-width="2.4" fill="none" stroke-linecap="round" stroke-linejoin="round"/>
<path d="M76 48 79.5 57" stroke="#cecece" stroke-width="2.4" fill="none" stroke-linecap="round" stroke-linejoin="round"/>
<path d="M76.5 65 80 74" stroke="#cecece" stroke-width="2.4" fill="none" stroke-linecap="round" stroke-linejoin="round"/>
<path d="M77 82 80.5 91" stroke="#cecece" stroke-width="2.4" fill="none" stroke-linecap="round" stroke-linejoin="round"/>
<path d="M77.5 99 81 108" stroke="#cecece" stroke-width="2.4" fill="none" stroke-linecap="round" stroke-linejoin="round"/>
</g>
<g filter="url(#bl1)">
<path d="M91 57 92 116" stroke="#bababa" stroke-width="2.6" fill="none" stroke-linecap="round" stroke-linejoin="round"/>
</g>
<g filter="url(#bl2_5)">
<rect x="74" y="60" width="18" height="60" fill="#adadad" opacity="0.8"/>
</g>
<g filter="url(#bl1_2)">
<rect x="93.8" y="6" width="6.2" height="110" fill="#cecece"/>
</g>
<g filter="url(#bl1)">
<ellipse cx="102" cy="11" rx="1.8" ry="3" fill="#bababa"/>
<ellipse cx="102" cy="30" rx="1.8" ry="3" fill="#bababa"/>
<ellipse cx="102" cy="49" rx="1.8" ry="3" fill="#bababa"/>
<ellipse cx="102" cy="66" rx="1.8" ry="3" fill="#bababa"/>
<ellipse cx="102" cy="84" rx="1.8" ry="3" fill="#bababa"/>
<ellipse cx="102" cy="102" rx="1.8" ry="3" fill="#bababa"/>
<path d="M97 116 95.5 150 93.5 176.6" stroke="#cccccc" stroke-width="3.2" fill="none" stroke-linecap="round" stroke-linejoin="round"/>
</g>
<g filter="url(#bl1_5)">
<path d="M3.5 186 7 185.6 11 183.7 15 180.5 17.8 178.8 20.5 180 22 182.5 24.5 188 26.5 192.5" stroke="#b1b1b1" stroke-width="8.6" fill="none" stroke-linecap="round" stroke-linejoin="round" opacity="0.85"/>
</g>
<g filter="url(#bl0_9)">
<path d="M3.5 186 7 185.6 11 183.7 15 180.5 17.8 178.8 20.5 180 22 182.5 24.5 188 26.5 192.5" stroke="#e7e7e7" stroke-width="4.6" fill="none" stroke-linecap="round" stroke-linejoin="round"/>
</g>
<g filter="url(#bl0_7)">
<path d="M3.5 186 7 185.6 11 183.7 15 180.5 17.8 178.8 20.5 180 22 182.5 24.5 188 26.5 192.5" stroke="#f4f4f4" stroke-width="2.4" fill="none" stroke-linecap="round" stroke-linejoin="round"/>
</g>
<g filter="url(#bl1_5)">
<path d="M3.5 169.6 6 168 9.5 164 14 158 17.8 154 20.5 156 22.5 160.5 24.5 168 26.3 178" stroke="#b1b1b1" stroke-width="8.6" fill="none" stroke-linecap="round" stroke-linejoin="round" opacity="0.85"/>
</g>
<g filter="url(#bl0_9)">
<path d="M3.5 169.6 6 168 9.5 164 14 158 17.8 154 20.5 156 22.5 160.5 24.5 168 26.3 178" stroke="#e7e7e7" stroke-width="4.6" fill="none" stroke-linecap="round" stroke-linejoin="round"/>
</g>
<g filter="url(#bl0_7)">
<path d="M3.5 169.6 6 168 9.5 164 14 158 17.8 154 20.5 156 22.5 160.5 24.5 168 26.3 178" stroke="#f4f4f4" stroke-width="2.4" fill="none" stroke-linecap="round" stroke-linejoin="round"/>
</g>
<g filter="url(#bl1_5)">
<path d="M4.5 150.5 7 148 10.8 141.4 14.5 134 17.8 129.4 20 131 22 137 24 146 26.3 162.5" stroke="#b1b1b1" stroke-width="8.6" fill="none" stroke-linecap="round" stroke-linejoin="round" opacity="0.85"/>
</g>
<g filter="url(#bl0_9)">
<path d="M4.5 150.5 7 148 10.8 141.4 14.5 134 17.8 129.4 20 131 22 137 24 146 26.3 162.5" stroke="#e7e7e7" stroke-width="4.6" fill="none" stroke-linecap="round" stroke-linejoin="round"/>
</g>
<g filter="url(#bl0_7)">
<path d="M4.5 150.5 7 148 10.8 141.4 14.5 134 17.8 129.4 20 131 22 137 24 146 26.3 162.5" stroke="#f4f4f4" stroke-width="2.4" fill="none" stroke-linecap="round" stroke-linejoin="round"/>
</g>
<g filter="url(#bl1_5)">
<path d="M5 131.5 8 127 10.8 123 13.5 116" stroke="#b1b1b1" stroke-width="8" fill="none" stroke-linecap="round" stroke-linejoin="round" opacity="0.85"/>
</g>
<g filter="url(#bl0_9)">
<path d="M5 131.5 8 127 10.8 123 13.5 116" stroke="#d6d6d6" stroke-width="4" fill="none" stroke-linecap="round" stroke-linejoin="round"/>
</g>
<g filter="url(#bl0_7)">
<path d="M5 131.5 8 127 10.8 123 13.5 116" stroke="#e3e3e3" stroke-width="1.8" fill="none" stroke-linecap="round" stroke-linejoin="round"/>
</g>
<g filter="url(#bl0_8)">
<path d="M23.5 116 25.5 140 27 172.5 28.4 195" stroke="#d2d2d2" stroke-width="1.6" fill="none" stroke-linecap="round" stroke-linejoin="round"/>
</g>
<g filter="url(#bl1_5)">
<path d="M64.4 189.3 70 186.5 75 184.3 78.5 183.7 82 185.5 85.5 189.3 89 191 92.6 190.7" stroke="#b1b1b1" stroke-width="8.6" fill="none" stroke-linecap="round" stroke-linejoin="round" opacity="0.85"/>
</g>
<g filter="url(#bl0_9)">
<path d="M64.4 189.3 70 186.5 75 184.3 78.5 183.7 82 185.5 85.5 189.3 89 191 92.6 190.7" stroke="#e7e7e7" stroke-width="4.6" fill="none" stroke-linecap="round" stroke-linejoin="round"/>
</g>
<g filter="url(#bl0_7)">
<path d="M64.4 189.3 70 186.5 75 184.3 78.5 183.7 82 185.5 85.5 189.3 89 191 92.6 190.7" stroke="#f4f4f4" stroke-width="2.4" fill="none" stroke-linecap="round" stroke-linejoin="round"/>
</g>
<g filter="url(#bl1_5)">
<path d="M63 182.3 66 178 70 172.4 75 167.3 78.5 165.4 82 168.5 85.5 175 88 179.5 90 181 93.3 176.6" stroke="#b1b1b1" stroke-width="8.6" fill="none" stroke-linecap="round" stroke-linejoin="round" opacity="0.85"/>
</g>
<g filter="url(#bl0_9)">
<path d="M63 182.3 66 178 70 172.4 75 167.3 78.5 165.4 82 168.5 85.5 175 88 179.5 90 181 93.3 176.6" stroke="#e7e7e7" stroke-width="4.6" fill="none" stroke-linecap="round" stroke-linejoin="round"/>
</g>
<g filter="url(#bl0_7)">
<path d="M63 182.3 66 178 70 172.4 75 167.3 78.5 165.4 82 168.5 85.5 175 88 179.5 90 181 93.3 176.6" stroke="#f4f4f4" stroke-width="2.4" fill="none" stroke-linecap="round" stroke-linejoin="round"/>
</g>
<g filter="url(#bl1_5)">
<path d="M65.8 172.5 69 163 72.8 152.7 76 147.3 78.5 145.6 81.5 148 84 152.7 87.5 157.5 89 158.3" stroke="#b1b1b1" stroke-width="8.6" fill="none" stroke-linecap="round" stroke-linejoin="round" opacity="0.85"/>
</g>
<g filter="url(#bl0_9)">
<path d="M65.8 172.5 69 163 72.8 152.7 76 147.3 78.5 145.6 81.5 148 84 152.7 87.5 157.5 89 158.3" stroke="#e7e7e7" stroke-width="4.6" fill="none" stroke-linecap="round" stroke-linejoin="round"/>
</g>
<g filter="url(#bl0_7)">
<path d="M65.8 172.5 69 163 72.8 152.7 76 147.3 78.5 145.6 81.5 148 84 152.7 87.5 157.5 89 158.3" stroke="#f4f4f4" stroke-width="2.4" fill="none" stroke-linecap="round" stroke-linejoin="round"/>
</g>
<g filter="url(#bl1_5)">
<path d="M68.6 151 71.5 141 74.2 134 76.5 129.5 78.5 127 81 130.5 84 138.6 86.5 146 88.3 152.7" stroke="#b1b1b1" stroke-width="8.2" fill="none" stroke-linecap="round" stroke-linejoin="round" opacity="0.85"/>
</g>
<g filter="url(#bl0_9)">
<path d="M68.6 151 71.5 141 74.2 134 76.5 129.5 78.5 127 81 130.5 84 138.6 86.5 146 88.3 152.7" stroke="#e7e7e7" stroke-width="4.2" fill="none" stroke-linecap="round" stroke-linejoin="round"/>
</g>
<g filter="url(#bl0_7)">
<path d="M68.6 151 71.5 141 74.2 134 76.5 129.5 78.5 127 81 130.5 84 138.6 86.5 146 88.3 152.7" stroke="#f4f4f4" stroke-width="2" fill="none" stroke-linecap="round" stroke-linejoin="round"/>
</g>
<g filter="url(#bl1_5)">
<path d="M72.8 126 75 120 76.4 116" stroke="#b1b1b1" stroke-width="7.6" fill="none" stroke-linecap="round" stroke-linejoin="round" opacity="0.85"/>
</g>
<g filter="url(#bl0_9)">
<path d="M72.8 126 75 120 76.4 116" stroke="#d2d2d2" stroke-width="3.6" fill="none" stroke-linecap="round" stroke-linejoin="round"/>
</g>
<g filter="url(#bl0_7)">
<path d="M72.8 126 75 120 76.4 116" stroke="#dddddd" stroke-width="1.4" fill="none" stroke-linecap="round" stroke-linejoin="round"/>
</g>
<g filter="url(#bl0_8)">
<path d="M86 116 88 135 89.5 155 90 176" stroke="#cccccc" stroke-width="1.6" fill="none" stroke-linecap="round" stroke-linejoin="round"/>
</g>
<g filter="url(#bl1_2)">
<path d="M100.5 128.7 118 128.7" stroke="#a5a5a5" stroke-width="3" fill="none" stroke-linecap="round" stroke-linejoin="round"/>
<path d="M100.5 141 118 141" stroke="#b1b1b1" stroke-width="3.6" fill="none" stroke-linecap="round" stroke-linejoin="round"/>
</g>
<g filter="url(#bl1_5)">
<path d="M101 147.7 121.5 147.7" stroke="#b1b1b1" stroke-width="9.4" fill="none" stroke-linecap="round" stroke-linejoin="round" opacity="0.85"/>
</g>
<g filter="url(#bl0_9)">
<path d="M101 147.7 121.5 147.7" stroke="#cecece" stroke-width="5.4" fill="none" stroke-linecap="round" stroke-linejoin="round"/>
</g>
<g filter="url(#bl0_7)">
<path d="M101 147.7 121.5 147.7" stroke="#d6d6d6" stroke-width="3.2" fill="none" stroke-linecap="round" stroke-linejoin="round"/>
</g>
<g filter="url(#bl1_5)">
<path d="M100.5 166 121.5 166" stroke="#b1b1b1" stroke-width="9.6" fill="none" stroke-linecap="round" stroke-linejoin="round" opacity="0.85"/>
</g>
<g filter="url(#bl0_9)">
<path d="M100.5 166 121.5 166" stroke="#dddddd" stroke-width="5.6" fill="none" stroke-linecap="round" stroke-linejoin="round"/>
</g>
<g filter="url(#bl0_7)">
<path d="M100.5 166 121.5 166" stroke="#eaeaea" stroke-width="3.4" fill="none" stroke-linecap="round" stroke-linejoin="round"/>
</g>
<g filter="url(#bl1_5)">
<path d="M100 185 121.5 185" stroke="#b1b1b1" stroke-width="10" fill="none" stroke-linecap="round" stroke-linejoin="round" opacity="0.85"/>
</g>
<g filter="url(#bl0_9)">
<path d="M100 185 121.5 185" stroke="#f1f1f1" stroke-width="6" fill="none" stroke-linecap="round" stroke-linejoin="round"/>
</g>
<g filter="url(#bl0_7)">
<path d="M100 185 121.5 185" stroke="#f7f7f7" stroke-width="3.8" fill="none" stroke-linecap="round" stroke-linejoin="round"/>
</g>
<g filter="url(#bl1)">
<ellipse cx="119.5" cy="69.5" rx="1.8" ry="2.4" fill="#a9a9a9"/>
<ellipse cx="119.5" cy="88" rx="1.8" ry="2.4" fill="#a9a9a9"/>
<ellipse cx="119.5" cy="107.5" rx="1.8" ry="2.4" fill="#a9a9a9"/>
<ellipse cx="119.5" cy="124.5" rx="2" ry="2.4" fill="#b1b1b1"/>
</g>
<g filter="url(#bl1_5)">
<rect x="126" y="8" width="5" height="108" fill="#9d9d9d"/>
</g>
<g filter="url(#bl0_8)">
<path d="M126 7 128 20 130.5 35" stroke="#cacaca" stroke-width="2.2" fill="none" stroke-linecap="round" stroke-linejoin="round"/>
<path d="M125.5 30 127.5 60 130 85" stroke="#cccccc" stroke-width="2" fill="none" stroke-linecap="round" stroke-linejoin="round"/>
<path d="M128.5 25 130.5 60 132 95" stroke="#c2c2c2" stroke-width="1.5" fill="none" stroke-linecap="round" stroke-linejoin="round"/>
<path d="M126 88 128 112" stroke="#d2d2d2" stroke-width="2.4" fill="none" stroke-linecap="round" stroke-linejoin="round"/>
</g>
<g filter="url(#bl0_9)">
<path d="M126.2 123 129.8 137" stroke="#e0e0e0" stroke-width="2.6" fill="none" stroke-linecap="round" stroke-linejoin="round"/>
<path d="M127 143 131 154" stroke="#e0e0e0" stroke-width="2.8" fill="none" stroke-linecap="round" stroke-linejoin="round"/>
<path d="M125.6 161 128.5 168 132.6 172.5" stroke="#e0e0e0" stroke-width="3" fill="none" stroke-linecap="round" stroke-linejoin="round"/>
<path d="M124.8 181 128 186 134 189.5 138 191 141.5 190.5" stroke="#e0e0e0" stroke-width="3.2" fill="none" stroke-linecap="round" stroke-linejoin="round"/>
</g>
<g filter="url(#bl1_4)">
<rect x="134" y="8" width="9.5" height="42" fill="#b6b6b6"/>
<rect x="134" y="50" width="9.5" height="66" fill="#c6c6c6"/>
<rect x="134" y="116" width="9.5" height="59" fill="#d0d0d0"/>
<rect x="134" y="175" width="9.5" height="11" fill="#bebebe"/>
<rect x="135.5" y="45" width="6" height="55" fill="#cecece"/>
<rect x="135.5" y="100" width="6" height="70" fill="#dddddd"/>
</g>
<g filter="url(#bl1)">
<ellipse cx="137.5" cy="175.5" rx="2.2" ry="2.6" fill="#b1b1b1"/>
</g>
<g filter="url(#bl1_4)">
<rect x="147.4" y="8" width="6.1" height="34" fill="#a1a1a1"/>
<rect x="147.4" y="42" width="8.9" height="18" fill="#b6b6b6"/>
<rect x="147.4" y="60" width="8.9" height="56" fill="#c6c6c6"/>
<rect x="147.4" y="116" width="8.9" height="56" fill="#d2d2d2"/>
<rect x="147.4" y="172" width="8.9" height="24" fill="#b1b1b1"/>
</g>
<g filter="url(#bl1_2)">
<rect x="148.5" y="60" width="4.5" height="105" fill="#e0e0e0"/>
</g>
<g filter="url(#bl1_1)">
<ellipse cx="160" cy="170" rx="2.3" ry="2.4" fill="#adadad"/>
<ellipse cx="160" cy="181" rx="2.3" ry="2.4" fill="#adadad"/>
<ellipse cx="160" cy="192" rx="2.3" ry="2.4" fill="#adadad"/>
<ellipse cx="158.5" cy="130" rx="1.6" ry="2.4" fill="#a9a9a9"/>
<ellipse cx="158.5" cy="145" rx="1.6" ry="2.4" fill="#a9a9a9"/>
<ellipse cx="158.5" cy="158" rx="1.6" ry="2.4" fill="#a9a9a9"/>
</g>
<g filter="url(#bl1_6)">
<ellipse cx="174.8" cy="15.5" rx="3.8" ry="7" fill="#ababab"/>
<ellipse cx="174.8" cy="39" rx="3.8" ry="8" fill="#adadad"/>
<ellipse cx="175" cy="80" rx="4" ry="11" fill="#adadad"/>
<path d="M175 55 175 100" stroke="#a1a1a1" stroke-width="4" fill="none" stroke-linecap="round" stroke-linejoin="round" opacity="0.7"/>
</g>
<g filter="url(#bl1)">
<rect x="188.3" y="8" width="3.7" height="108" fill="#b6b6b6"/>
</g>
<g filter="url(#bl0_9)">
<ellipse cx="190.5" cy="19" rx="1.5" ry="2.6" fill="#bebebe"/>
<ellipse cx="190.5" cy="33" rx="1.5" ry="2.6" fill="#bebebe"/>
<ellipse cx="190.5" cy="47" rx="1.5" ry="2.6" fill="#bebebe"/>
<ellipse cx="190.5" cy="61" rx="1.5" ry="2.6" fill="#bebebe"/>
<ellipse cx="190.5" cy="75" rx="1.5" ry="2.6" fill="#bebebe"/>
<ellipse cx="190.5" cy="89" rx="1.5" ry="2.6" fill="#bebebe"/>
<ellipse cx="190.5" cy="103" rx="1.5" ry="2.6" fill="#bebebe"/>
</g>
<g filter="url(#bl1_2)">
<rect x="190" y="116" width="6.5" height="80" fill="#bebebe"/>
</g>
<g filter="url(#bl1)">
<ellipse cx="193" cy="131.5" rx="3.6" ry="2.6" fill="#ededed"/>
<ellipse cx="193" cy="146.3" rx="3.6" ry="2.6" fill="#ededed"/>
<ellipse cx="193" cy="159.7" rx="3.6" ry="2.6" fill="#ededed"/>
<ellipse cx="193" cy="173.8" rx="3.6" ry="2.6" fill="#ededed"/>
<ellipse cx="193" cy="189.3" rx="3.6" ry="2.6" fill="#ededed"/>
</g>
<g filter="url(#bl1_4)">
<rect x="193" y="8" width="4" height="108" fill="#a1a1a1"/>
</g>
<g filter="url(#bl1_5)">
<rect x="196.6" y="8" width="9.4" height="22" fill="#b6b6b6"/>
<rect x="196.6" y="30" width="9.4" height="86" fill="#c2c2c2"/>
</g>
<g filter="url(#bl1_1)">
<ellipse cx="203.5" cy="38" rx="2.2" ry="3.6" fill="#d6d6d6"/>
<ellipse cx="203.5" cy="52" rx="2.2" ry="3.6" fill="#d6d6d6"/>
<ellipse cx="203.5" cy="65" rx="2.2" ry="3.6" fill="#d6d6d6"/>
<ellipse cx="203.5" cy="82" rx="2.2" ry="3.6" fill="#d6d6d6"/>
</g>
<g filter="url(#bl1)">
<ellipse cx="202" cy="11.5" rx="1.7" ry="3" fill="#c2c2c2"/>
</g>
<g filter="url(#bl1_4)">
<rect x="209.5" y="6" width="10" height="39" fill="#cccccc"/>
<rect x="209.5" y="45" width="10" height="17" fill="#bebebe"/>
</g>
<g filter="url(#bl1_3)">
<rect x="212" y="10" width="5" height="30" fill="#d2d2d2"/>
</g>
<g filter="url(#bl1_1)">
<path d="M212.5 62 214 90 216 116" stroke="#bebebe" stroke-width="4" fill="none" stroke-linecap="round" stroke-linejoin="round"/>
</g>
<g filter="url(#bl1)">
<path d="M217.5 50 218.5 100 219.5 140" stroke="#adadad" stroke-width="1.8" fill="none" stroke-linecap="round" stroke-linejoin="round"/>
</g>
<g filter="url(#bl1_5)">
<path d="M201.8 190 205 189.8 208.8 189.3 212.5 187.5 215.8 185 220 183.7" stroke="#b1b1b1" stroke-width="9.2" fill="none" stroke-linecap="round" stroke-linejoin="round" opacity="0.85"/>
</g>
<g filter="url(#bl0_9)">
<path d="M201.8 190 205 189.8 208.8 189.3 212.5 187.5 215.8 185 220 183.7" stroke="#e7e7e7" stroke-width="5.2" fill="none" stroke-linecap="round" stroke-linejoin="round"/>
</g>
<g filter="url(#bl0_7)">
<path d="M201.8 190 205 189.8 208.8 189.3 212.5 187.5 215.8 185 220 183.7" stroke="#f4f4f4" stroke-width="3" fill="none" stroke-linecap="round" stroke-linejoin="round"/>
</g>
<g filter="url(#bl1_5)">
<path d="M201.8 176.6 205 176.3 208.8 175 212.5 171.5 215.8 166.8 219.3 162.5" stroke="#b1b1b1" stroke-width="8.8" fill="none" stroke-linecap="round" stroke-linejoin="round" opacity="0.85"/>
</g>
<g filter="url(#bl0_9)">
<path d="M201.8 176.6 205 176.3 208.8 175 212.5 171.5 215.8 166.8 219.3 162.5" stroke="#e7e7e7" stroke-width="4.8" fill="none" stroke-linecap="round" stroke-linejoin="round"/>
</g>
<g filter="url(#bl0_7)">
<path d="M201.8 176.6 205 176.3 208.8 175 212.5 171.5 215.8 166.8 219.3 162.5" stroke="#f4f4f4" stroke-width="2.6" fill="none" stroke-linecap="round" stroke-linejoin="round"/>
</g>
<g filter="url(#bl1_5)">
<path d="M201.8 162.5 204 162.2 207.3 161 211 157.5 214.4 152.7 218.6 144" stroke="#b1b1b1" stroke-width="8.6" fill="none" stroke-linecap="round" stroke-linejoin="round" opacity="0.85"/>
</g>
<g filter="url(#bl0_9)">
<path d="M201.8 162.5 204 162.2 207.3 161 211 157.5 214.4 152.7 218.6 144" stroke="#e0e0e0" stroke-width="4.6" fill="none" stroke-linecap="round" stroke-linejoin="round"/>
</g>
<g filter="url(#bl0_7)">
<path d="M201.8 162.5 204 162.2 207.3 161 211 157.5 214.4 152.7 218.6 144" stroke="#ededed" stroke-width="2.4" fill="none" stroke-linecap="round" stroke-linejoin="round"/>
</g>
<g filter="url(#bl1_5)">
<path d="M202.4 150 204 149.4 206.6 148.4 210 145.5 213 141.4 215.5 136 217.2 130" stroke="#b1b1b1" stroke-width="8" fill="none" stroke-linecap="round" stroke-linejoin="round" opacity="0.85"/>
</g>
<g filter="url(#bl0_9)">
<path d="M202.4 150 204 149.4 206.6 148.4 210 145.5 213 141.4 215.5 136 217.2 130" stroke="#d2d2d2" stroke-width="4" fill="none" stroke-linecap="round" stroke-linejoin="round"/>
</g>
<g filter="url(#bl0_7)">
<path d="M202.4 150 204 149.4 206.6 148.4 210 145.5 213 141.4 215.5 136 217.2 130" stroke="#dddddd" stroke-width="1.8" fill="none" stroke-linecap="round" stroke-linejoin="round"/>
</g>
<g filter="url(#bl1_5)">
<path d="M202.4 134.5 205 133 208.8 131.5 212 128 215.8 123" stroke="#b1b1b1" stroke-width="7.6" fill="none" stroke-linecap="round" stroke-linejoin="round" opacity="0.85"/>
</g>
<g filter="url(#bl0_9)">
<path d="M202.4 134.5 205 133 208.8 131.5 212 128 215.8 123" stroke="#bababa" stroke-width="3.6" fill="none" stroke-linecap="round" stroke-linejoin="round"/>
</g>
<g filter="url(#bl0_7)">
<path d="M202.4 134.5 205 133 208.8 131.5 212 128 215.8 123" stroke="#c2c2c2" stroke-width="1.4" fill="none" stroke-linecap="round" stroke-linejoin="round"/>
</g>
<g filter="url(#bl1)">
<ellipse cx="203.3" cy="121.6" rx="2" ry="2" fill="#b1b1b1"/>
</g>
<g filter="url(#bl0_7)">
<path d="M134.5 40 138 54 142 64" stroke="#f4f4f4" stroke-width="1.4" fill="none" stroke-linecap="round" stroke-linejoin="round" opacity="0.75"/>
<path d="M134.5 55 138 69 142 79" stroke="#f4f4f4" stroke-width="1.4" fill="none" stroke-linecap="round" stroke-linejoin="round" opacity="0.75"/>
<path d="M134.5 70 138 84 142 94" stroke="#f4f4f4" stroke-width="1.4" fill="none" stroke-linecap="round" stroke-linejoin="round" opacity="0.75"/>
<path d="M134.5 85 138 99 142 109" stroke="#f4f4f4" stroke-width="1.4" fill="none" stroke-linecap="round" stroke-linejoin="round" opacity="0.75"/>
<path d="M148 85 151 97 155.5 105" stroke="#f4f4f4" stroke-width="1.4" fill="none" stroke-linecap="round" stroke-linejoin="round" opacity="0.75"/>
<path d="M134.5 100 138 114 142 124" stroke="#f4f4f4" stroke-width="1.4" fill="none" stroke-linecap="round" stroke-linejoin="round" opacity="0.75"/>
<path d="M148 100 151 112 155.5 120" stroke="#f4f4f4" stroke-width="1.4" fill="none" stroke-linecap="round" stroke-linejoin="round" opacity="0.75"/>
<path d="M134.5 115 138 129 142 139" stroke="#f4f4f4" stroke-width="1.4" fill="none" stroke-linecap="round" stroke-linejoin="round" opacity="0.75"/>
<path d="M148 115 151 127 155.5 135" stroke="#f4f4f4" stroke-width="1.4" fill="none" stroke-linecap="round" stroke-linejoin="round" opacity="0.75"/>
<path d="M134.5 130 138 144 142 154" stroke="#f4f4f4" stroke-width="1.4" fill="none" stroke-linecap="round" stroke-linejoin="round" opacity="0.75"/>
<path d="M148 130 151 142 155.5 150" stroke="#f4f4f4" stroke-width="1.4" fill="none" stroke-linecap="round" stroke-linejoin="round" opacity="0.75"/>
<path d="M134.5 145 138 159 142 169" stroke="#f4f4f4" stroke-width="1.4" fill="none" stroke-linecap="round" stroke-linejoin="round" opacity="0.75"/>
<path d="M148 145 151 157 155.5 165" stroke="#f4f4f4" stroke-width="1.4" fill="none" stroke-linecap="round" stroke-linejoin="round" opacity="0.75"/>
<path d="M134.5 160 138 174 142 184" stroke="#f4f4f4" stroke-width="1.4" fill="none" stroke-linecap="round" stroke-linejoin="round" opacity="0.75"/>
<path d="M148 160 151 172 155.5 180" stroke="#f4f4f4" stroke-width="1.4" fill="none" stroke-linecap="round" stroke-linejoin="round" opacity="0.75"/>
</g>
<g>
<rect x="0" y="203.2" width="237" height="1.8" fill="#dddddd"/>
</g>
</g>
<rect x="0" y="0" width="237" height="202.9" fill="none" stroke="#000" stroke-width="1.2"/>
<path d="M61 202.9 v-3.5 M61 0 v3.5 M123 202.9 v-3.5 M123 0 v3.5 M184 202.9 v-3.5 M184 0 v3.5 M0 140.1 h3.5 M237 140.1 h-3.5 M0 77.1 h3.5 M237 77.1 h-3.5 M0 13.1 h3.5 M237 13.1 h-3.5" stroke="#000" stroke-width="1" fill="none" shape-rendering="crispEdges"/>
<g font-family="'Liberation Sans', Arial, sans-serif" font-size="15" fill="#000">
<text x="0.3" y="219" text-anchor="middle">0</text>
<text x="61.8" y="219" text-anchor="middle">100</text>
<text x="123.2" y="219" text-anchor="middle">200</text>
<text x="184.7" y="219" text-anchor="middle">300</text>
<text x="-3.2" y="208" text-anchor="end">0</text>
<text x="-3.2" y="145.1" text-anchor="end">40</text>
<text x="-3.2" y="82" text-anchor="end">80</text>
<text x="-3.2" y="18.9" text-anchor="end">120</text>
<text x="118" y="-11.7" text-anchor="middle" font-size="16.4">Original spectrum</text>
<text x="118.2" y="238.1" text-anchor="middle" font-size="16.4">(e)</text>
</g>
</g>
<g font-family="'Liberation Serif', 'Times New Roman', serif" font-size="22.6" fill="#000"><text x="331.6" y="617">Figure 4:</text><text x="421.6" y="617" font-size="23.1">Training set (2).</text></g>
</svg></body></html>
